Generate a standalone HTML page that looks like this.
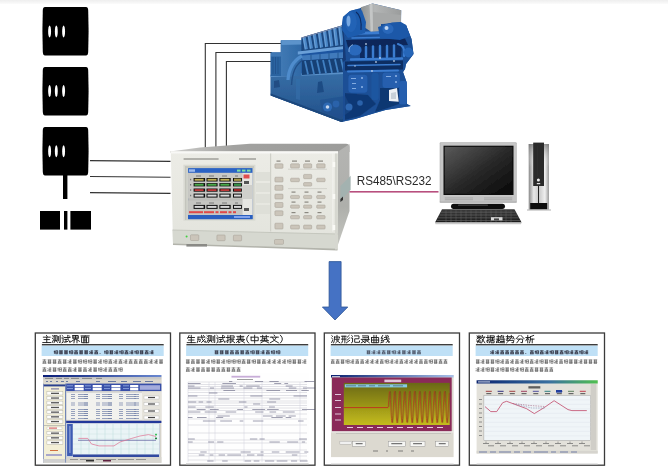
<!DOCTYPE html>
<html><head><meta charset="utf-8">
<style>
html,body{margin:0;padding:0;background:#fff;}
body{width:668px;height:470px;overflow:hidden;position:relative;font-family:"Liberation Sans",sans-serif;}
svg{position:absolute;left:0;top:0;}
</style></head><body>
<svg width="668" height="470" viewBox="0 0 668 470">
<filter id="soft" x="0" y="0" width="1" height="1"><feGaussianBlur stdDeviation="0.4"/></filter>
<g filter="url(#soft)">
<defs>
<linearGradient id="topband" x1="0" y1="0" x2="0" y2="1">
<stop offset="0" stop-color="#eeeeee"/><stop offset="1" stop-color="#fbfbfb"/>
</linearGradient>
</defs>
<rect x="0" y="0" width="668" height="470" fill="#fff"/>
<rect x="0" y="0" width="668" height="4" fill="url(#topband)"/>

<!-- left black icons -->
<g id="icons" fill="#000">
<path d="M45 7 H86 Q88 7 88.2 10 Q89 31 88.2 52 Q88 55.5 86 55.5 H45 Q43 55.5 42.8 52 Q42 31 42.8 10 Q43 7 45 7Z"/>
<path d="M45 67 H86 Q88 67 88.2 70 Q89 91 88.2 112 Q88 115.5 86 115.5 H45 Q43 115.5 42.8 112 Q42 91 42.8 70 Q43 67 45 67Z"/>
<path d="M45 127 H86 Q88 127 88.2 130 Q89 151 88.2 172 Q88 175.5 86 175.5 H45 Q43 175.5 42.8 172 Q42 151 42.8 130 Q43 127 45 127Z"/>
<rect x="63" y="175" width="4.4" height="24"/>
<rect x="40" y="211" width="20" height="18.6"/>
<rect x="64" y="211" width="3.4" height="18.6"/>
<rect x="70.4" y="211" width="20.6" height="18.6"/>
</g>
<g fill="#fff">
<ellipse cx="49.6" cy="31.6" rx="1.45" ry="6"/><ellipse cx="56.3" cy="31.6" rx="1.45" ry="6"/><ellipse cx="63.6" cy="31.6" rx="1.45" ry="6"/>
<ellipse cx="49.6" cy="91" rx="1.45" ry="6"/><ellipse cx="56.3" cy="91" rx="1.45" ry="6"/><ellipse cx="63.6" cy="91" rx="1.45" ry="6"/>
<ellipse cx="49.6" cy="151.3" rx="1.45" ry="6"/><ellipse cx="56.3" cy="151.3" rx="1.45" ry="6"/><ellipse cx="63.6" cy="151.3" rx="1.45" ry="6"/>
</g>
<!-- lines from icons to instrument -->
<g stroke="#333" stroke-width="1.1" fill="none">
<path d="M90 160.6 L170.5 161.4"/>
<path d="M90 176.5 L170.5 177.3"/>
<path d="M90 192.6 L170.5 193.4"/>
<!-- engine to instrument -->
<path d="M205.3 148 V43.5 H284"/>
<path d="M215.9 147.2 V52.5 H272"/>
<path d="M226.4 146.4 V61.5 H272"/>
</g>



<!-- engine -->
<g id="engine">
<defs>
<linearGradient id="baseg" x1="0" y1="0" x2="0" y2="1"><stop offset="0" stop-color="#376ea6"/><stop offset="0.5" stop-color="#2c5f98"/><stop offset="1" stop-color="#214f88"/></linearGradient>
<linearGradient id="boxg" x1="0" y1="0" x2="1" y2="0"><stop offset="0" stop-color="#8e9292"/><stop offset="0.35" stop-color="#b4b6b6"/><stop offset="1" stop-color="#9a9c9c"/></linearGradient>
<linearGradient id="leftblk" x1="0" y1="0" x2="1" y2="0"><stop offset="0" stop-color="#4079b4"/><stop offset="1" stop-color="#2f69a6"/></linearGradient>
</defs>
<!-- silhouette -->
<path d="M270.7 52.5 L280.8 52.5 L280.8 40.5 L301.5 40.5 L301.5 37.6 L341.8 25.5 L343 17 L350 11 L359 8.5 L372.5 3.6 L401.2 10.3 L401 24 L406 25 L411.5 39 L413.5 54 L406 64 L405 69 L403 72 L406.5 82 L407 104 L410.7 106 L385.5 110 L375 113 L355 119 L341.5 122 L270.7 95.5 Z" fill="#1c54a0"/>
<!-- base block -->
<path d="M270.7 74.8 L343 72 L343 121.5 L341.5 122 L270.7 95.5 Z" fill="url(#baseg)"/>
<path d="M270.7 93.5 L341.5 119.8 L343 119.3 L343 121.5 L341.5 122 L270.7 95.5 Z" fill="#1c477c"/>
<path d="M270.7 74.8 L343 71.8 L343 74 L270.7 77 Z" fill="#5a90c8"/>
<path d="M274 81 L279 80 L280 87 L274 88 Z" fill="#224e84"/>
<path d="M318 82 L322 81 L324 92 L317 93 Z" fill="#1f4c84"/>
<path d="M296 79 L300 79 L300 100 L296 99 Z" fill="#3370ac" opacity="0.6"/>
<!-- left blocks -->
<path d="M280.8 40.5 L301.5 40.5 L301.5 76 L280.8 76 Z" fill="url(#leftblk)"/>
<path d="M281.5 40.3 L301.5 40.3 L301.5 44.5 L281.5 45 Z" fill="#5b93cb"/>
<path d="M270.7 52.5 L281 52.5 L281 76 L270.7 76 Z" fill="#2c64a0"/>
<g stroke="#1d4f8a" stroke-width="0.8"><path d="M273 57 V74"/><path d="M275.5 57 V74"/><path d="M278 57 V74"/></g>
<path d="M271 52.8 L281 52.8 L281 56.5 L271 56.5 Z" fill="#3f78b4"/>
<!-- cylinder heads -->
<path d="M301.5 37.6 L341.8 25.5 L345 25 L345 47 L301.5 51.5 Z" fill="#1a467e"/>
<path d="M302.50 37.90 L305.70 37.00 L307.90 48.88 L304.70 49.68 Z" fill="#4c88c8"/>
<path d="M302.90 38.10 L303.90 37.80 L305.70 49.08 L304.90 49.38 Z" fill="#80b0e0" opacity="0.7"/>
<path d="M307.60 36.37 L310.80 35.47 L313.00 48.29 L309.80 49.09 Z" fill="#4c88c8"/>
<path d="M308.00 36.57 L309.00 36.27 L310.80 48.49 L310.00 48.79 Z" fill="#80b0e0" opacity="0.7"/>
<path d="M312.70 34.84 L315.90 33.94 L318.10 47.69 L314.90 48.49 Z" fill="#4c88c8"/>
<path d="M313.10 35.04 L314.10 34.74 L315.90 47.89 L315.10 48.19 Z" fill="#80b0e0" opacity="0.7"/>
<path d="M317.80 33.31 L321.00 32.41 L323.20 47.10 L320.00 47.90 Z" fill="#4c88c8"/>
<path d="M318.20 33.51 L319.20 33.21 L321.00 47.30 L320.20 47.60 Z" fill="#80b0e0" opacity="0.7"/>
<path d="M322.90 31.77 L326.10 30.87 L328.30 46.50 L325.10 47.30 Z" fill="#4c88c8"/>
<path d="M323.30 31.97 L324.30 31.67 L326.10 46.70 L325.30 47.00 Z" fill="#80b0e0" opacity="0.7"/>
<path d="M328.00 30.24 L331.20 29.34 L333.40 45.91 L330.20 46.71 Z" fill="#4c88c8"/>
<path d="M328.40 30.44 L329.40 30.14 L331.20 46.11 L330.40 46.41 Z" fill="#80b0e0" opacity="0.7"/>
<path d="M333.10 28.71 L336.30 27.81 L338.50 45.31 L335.30 46.11 Z" fill="#4c88c8"/>
<path d="M333.50 28.91 L334.50 28.61 L336.30 45.51 L335.50 45.81 Z" fill="#80b0e0" opacity="0.7"/>
<path d="M338.20 27.18 L341.40 26.28 L343.60 44.72 L340.40 45.52 Z" fill="#4c88c8"/>
<path d="M338.60 27.38 L339.60 27.08 L341.40 44.92 L340.60 45.22 Z" fill="#80b0e0" opacity="0.7"/>
<path d="M301.5 37.6 L341.8 25.5 L342.2 26.6 L301.5 38.6 Z" fill="#b8b0c0" opacity="0.6"/>
<path d="M297.8 51.6 L345 46 L345 49 L297.8 54.6 Z" fill="#6aa0d8"/>
<path d="M302 55.4 L345 52 L345 58 L302 60.5 Z" fill="#3f7abb"/>
<g stroke="#1e4a82" stroke-width="0.7"><path d="M311 54.7V60"/><path d="M320 54V59.5"/><path d="M329 53.3V59"/><path d="M338 52.6V58.5"/></g>
<path d="M302 60.5 L345 58 L345 72 L302 75 Z" fill="#173f74"/>
<g stroke="#4080c2" stroke-width="1.8">
<path d="M305.0 61.0 L308.0 74.5"/>
<path d="M311.0 60.6 L314.0 74.1"/>
<path d="M317.0 60.3 L320.0 73.7"/>
<path d="M323.0 60.0 L326.0 73.3"/>
<path d="M329.0 59.6 L332.0 72.9"/>
<path d="M335.0 59.2 L338.0 72.5"/>
<path d="M341.0 58.9 L344.0 72.1"/>
</g>
<path d="M288 80 Q289 63 302 56" stroke="#4f8ccc" stroke-width="3.2" fill="none"/>
<path d="M291.5 85 Q292.5 66 303 60" stroke="#214f88" stroke-width="1.4" fill="none"/>
<!-- right complex section -->
<path d="M343 24.5 L362 24 L401 24 L406 25 L411.5 39 L413.5 54 L406 64 L405 69 L403 72 L406.5 82 L407 104 L410.7 106 L385.5 110 L375 113 L355 119 L343 121.5 Z" fill="#1a4f96"/>
<g fill="#0b285a">
<path d="M346 40 L405 38.5 L408 45 L348 47.5 Z"/>
<path d="M360 46 L402 45 L401 58 L360 58.5 Z" opacity="0.9"/>
<path d="M345 61.5 L403 60.5 L403 69.5 L345 70.5 Z" opacity="0.85"/>
<path d="M345 93 L368 95 L376 104 L360 116 L345 120 Z" opacity="0.55"/>
<path d="M380 88 L399 88 L399 104 L385 109 L375 112 L380 100 Z" opacity="0.6"/>
<path d="M343 24.5 L346 60 L343 62 Z" opacity="0.5"/>
</g>
<g fill="none" stroke="#3a7cd0" stroke-linecap="round">
<path d="M348 33.5 L404 32" stroke-width="3"/>
<path d="M352 38 L399 37" stroke-width="1.6"/>
<path d="M351 59.5 L402 58.5" stroke-width="2.4"/>
<path d="M348 65.5 L400 64.5" stroke-width="1.5"/>
<path d="M348 71.5 L398 70.5" stroke-width="2"/>
<path d="M366 47 V57" stroke-width="2.4"/><path d="M373 46.5 V57" stroke-width="2.4"/><path d="M380 46 V57" stroke-width="2.4"/><path d="M387 46 V57" stroke-width="2.4"/><path d="M394 45.5 V56.5" stroke-width="2.4"/>
<path d="M398 44 Q406 46 404 56" stroke-width="2.2"/>
</g>
<g fill="#255fae">
<rect x="348.4" y="74.8" width="19" height="18" rx="3"/>
<rect x="382.5" y="72.4" width="17.4" height="15.6" rx="3"/>
<rect x="399.3" y="81" width="7.5" height="23.5" rx="2"/>
<rect x="371.5" y="73" width="7" height="27" rx="2" fill="#1f56a0"/>
</g>
<g fill="#8fb4e6"><rect x="351" y="78" width="5" height="0.9"/><rect x="352" y="83" width="4" height="0.9"/><rect x="352" y="88" width="4" height="0.9"/><rect x="386" y="76" width="5" height="0.9"/><circle cx="362" cy="78" r="1"/><circle cx="362" cy="87" r="1"/><circle cx="396" cy="76" r="1"/><circle cx="396" cy="82" r="1"/></g>
<ellipse cx="355" cy="50" rx="6.6" ry="5.6" fill="#2b69bc"/>
<path d="M349 52 Q348.5 46 353 44.6" stroke="#a8c8f0" stroke-width="0.7" fill="none"/>
<ellipse cx="408.5" cy="52.5" rx="4.6" ry="5" fill="#2866b8"/>
<g fill="#c8d8ee" opacity="0.85"><circle cx="366" cy="44" r="0.9"/><circle cx="380" cy="58" r="0.9"/><circle cx="394" cy="61" r="0.9"/><circle cx="376" cy="62" r="0.9"/><circle cx="358" cy="33" r="0.9"/><circle cx="372" cy="71" r="0.9"/><circle cx="355" cy="66" r="0.8"/></g>
<!-- pumps bottom -->
<path d="M320 100 L345 96 L352 110 L340 118 L322 112 Z" fill="#1e4f90" opacity="0.6"/>
<circle cx="327.5" cy="107" r="4.6" fill="#2f6ab4"/>
<circle cx="336" cy="104" r="3.4" fill="#2a62aa"/>
<circle cx="327.5" cy="107" r="1.8" fill="#c8d8ee"/>
<circle cx="349" cy="107" r="3.5" fill="#2e68b2"/>
<circle cx="360" cy="103" r="2.8" fill="#2a62aa"/>
<!-- gray box & turbo -->
<path d="M360.8 7.2 L372.5 3.6 L401.2 10.3 L400.8 22 L392 22.5 L381 24 L380.5 31 L370.7 31.5 L364 27 Z" fill="url(#boxg)"/>
<path d="M369.5 4.5 L372.5 3.6 L373 31.3 L370.7 31.5 Z" fill="#c4c6c6"/>
<path d="M373 12 L400.8 15 L400.8 22 L381 24 L380.5 31 L373 31.3 Z" fill="#a6a8a8"/>
<path d="M342 30 L343 17 L350 11 L356 9.5 L362 10.5 L366 22 L365 33 L348 38 Z" fill="#1f5cae"/>
<ellipse cx="351" cy="22" rx="5.5" ry="10" fill="#2464b6"/>
<ellipse cx="348.5" cy="21" rx="2" ry="5.5" fill="#8ab8ee" opacity="0.8"/>
<path d="M356 12 Q362 16 361 30" stroke="#0c2c62" stroke-width="1.2" fill="none"/>
<path d="M378 27 L392 22.5 L401 22 L406 25 L410 36 L400 40 L380 38 Z" fill="#1d58a8"/>
<ellipse cx="388" cy="29" rx="5.5" ry="5" fill="#2a68ba"/>
<circle cx="386.5" cy="28" r="2" fill="#c0d6f2"/>
<path d="M389 90 L397 88 L398.7 101.7 L389 101 Z" fill="#eef1f4"/>
<path d="M391 93 L396 92 L396 99 L391 99 Z" fill="#c8d0d8"/>
</g>

<!-- instrument -->
<g id="instrument">
<defs>
<linearGradient id="sideg" x1="0" y1="0" x2="0" y2="1"><stop offset="0" stop-color="#b4b4b2"/><stop offset="0.6" stop-color="#aeafab"/><stop offset="1" stop-color="#c6c7c1"/></linearGradient>
<linearGradient id="topg" x1="0" y1="0" x2="1" y2="0"><stop offset="0" stop-color="#d0d0ce"/><stop offset="0.35" stop-color="#a2a2a0"/><stop offset="1" stop-color="#9c9c9a"/></linearGradient>
<linearGradient id="frontg" x1="0" y1="0" x2="0" y2="1"><stop offset="0" stop-color="#ecece6"/><stop offset="1" stop-color="#e2e3dc"/></linearGradient>
</defs>
<!-- top face -->
<path d="M170 151.5 L200 147.5 L250 143.8 L346 143.8 Q349.5 144 349.5 147 L349.5 152 L338 152.5 L170 152.5 Z" fill="url(#topg)"/>
<!-- side face -->
<path d="M337.5 152 L349.5 144 L349.5 211 L337 247.5 Z" fill="url(#sideg)"/>
<!-- front -->
<path d="M170.8 151.5 L338 151.5 L337.5 249.5 L173 244 Z" fill="url(#frontg)"/>
<rect x="170.8" y="151.3" width="167.2" height="2.2" fill="#f8f8f6"/>
<!-- base band -->
<path d="M172.5 230 L338 234 L337.5 249.5 L173 244 Z" fill="#d6d8d0"/>
<path d="M172.5 230 L270 232.5 L338 234" stroke="#c2c4bb" stroke-width="0.9" fill="none"/>
<path d="M173 244.2 L337.5 249.6" stroke="#b2b3ab" stroke-width="1.6" fill="none"/>
<!-- feet -->
<rect x="186.4" y="244" width="20.6" height="2.6" fill="#8a8a86"/>
<!-- panel label text -->
<rect x="183.6" y="158.3" width="35" height="1.4" fill="#9a9a94"/>
<rect x="239" y="158.3" width="17" height="1.4" fill="#9a9a94"/>
<!-- screen bezel -->
<rect x="183.4" y="164.7" width="72" height="56" fill="#d9dad2"/>
<rect x="185" y="166.4" width="69" height="53.5" fill="#d0d1ca"/>
<rect x="185" y="166.4" width="69" height="1.2" fill="#bfc0b8"/><rect x="185" y="166.4" width="1.2" height="53.5" fill="#c4c5bd"/>
<!-- screen -->
<rect x="188.1" y="168.1" width="64.4" height="51" fill="#2b62c4"/>
<rect x="188.1" y="172.9" width="64.4" height="42.1" fill="#bdbdb9"/>
<rect x="188.1" y="172.9" width="54.4" height="25.5" fill="#c8c8c4"/>
<rect x="188.1" y="200.5" width="54.4" height="14.5" fill="#c6c6c2"/>
<rect x="242.5" y="172.9" width="10" height="42.1" fill="#e6e6e2"/>
<rect x="242.5" y="185" width="10" height="14" fill="#cfcfcb"/>
<rect x="188.1" y="215" width="64.4" height="4.1" fill="#2a5ec0"/>
<rect x="189" y="169.3" width="6" height="2.5" fill="#cfe0ff" opacity="0.7"/>
<rect x="237" y="169.6" width="3.5" height="2" fill="#7fe0a0"/><rect x="242" y="169.6" width="3.5" height="2" fill="#7fe0a0"/><rect x="247" y="169.6" width="3.5" height="2" fill="#7fe0a0"/>
<g fill="#101010">
<rect x="193.6" y="178" width="11.5" height="3.5"/><rect x="206.5" y="178" width="11.1" height="3.5"/><rect x="219.4" y="178" width="11.3" height="3.5"/><rect x="233" y="178" width="8.9" height="3.5"/>
<rect x="193.6" y="183.1" width="11.5" height="3.3"/><rect x="206.5" y="183.1" width="11.1" height="3.3"/><rect x="219.4" y="183.1" width="11.3" height="3.3"/><rect x="233" y="183.1" width="8.9" height="3.3"/>
<rect x="193.6" y="188.5" width="11.5" height="3.2"/><rect x="206.5" y="188.5" width="11.1" height="3.2"/><rect x="219.4" y="188.5" width="11.3" height="3.2"/><rect x="233" y="188.5" width="8.9" height="3.2"/>
<rect x="193.6" y="193.6" width="11.5" height="4"/><rect x="206.5" y="193.6" width="11.1" height="4"/><rect x="219.4" y="193.6" width="11.3" height="4"/><rect x="233" y="193.6" width="8.9" height="4"/>
<rect x="193.6" y="204.9" width="11.5" height="4"/><rect x="206.5" y="204.9" width="11.1" height="4"/><rect x="219.4" y="204.9" width="11.3" height="4"/><rect x="233" y="204.9" width="8.9" height="4"/>
</g>
<g fill="#c0b058"><rect x="194.6" y="178.8" width="9" height="1.9"/><rect x="207.5" y="178.8" width="9" height="1.9"/><rect x="220.4" y="178.8" width="9" height="1.9"/><rect x="234" y="178.6" width="7" height="2.3" fill="#a89848"/></g>
<g fill="#48a848"><rect x="194.6" y="183.8" width="9" height="1.9"/><rect x="207.5" y="183.8" width="9" height="1.9"/><rect x="220.4" y="183.8" width="9" height="1.9"/><rect x="234" y="183.6" width="7" height="2.3" fill="#38904a"/></g>
<g fill="#c03838"><rect x="194.6" y="189.2" width="9" height="1.8"/><rect x="207.5" y="189.2" width="9" height="1.8"/><rect x="220.4" y="189.2" width="9" height="1.8"/><rect x="234" y="189" width="7" height="2.2" fill="#a02828"/></g>
<g fill="#d8d8d8"><rect x="194.6" y="194.6" width="9" height="2"/><rect x="207.5" y="194.6" width="9" height="2"/><rect x="220.4" y="194.6" width="9" height="2"/><rect x="234" y="194.6" width="7" height="2"/>
<rect x="194.6" y="205.9" width="9" height="2"/><rect x="207.5" y="205.9" width="9" height="2"/><rect x="220.4" y="205.9" width="9" height="2"/><rect x="234" y="205.9" width="7" height="2"/></g>
<g fill="#777"><rect x="196" y="175.5" width="5" height="1"/><rect x="209" y="175.5" width="5" height="1"/><rect x="222" y="175.5" width="5" height="1"/><rect x="235" y="175.5" width="3" height="1"/>
<rect x="196" y="202.5" width="5" height="1"/><rect x="209" y="202.5" width="5" height="1"/><rect x="222" y="202.5" width="5" height="1"/><rect x="235" y="202.5" width="3" height="1"/>
<rect x="190" y="178.8" width="1.2" height="1.5"/><rect x="190" y="184" width="1.2" height="1.5"/><rect x="190" y="189.3" width="1.2" height="1.5"/><rect x="190" y="194.8" width="1.2" height="1.5"/></g>
<g fill="#e04848"><rect x="189" y="211.2" width="14" height="2"/><rect x="204" y="211.2" width="10" height="2"/><rect x="215.5" y="211.2" width="3" height="2"/><rect x="220" y="211.2" width="7" height="2"/><rect x="228.5" y="211.2" width="3" height="2"/><rect x="233" y="211.2" width="3" height="2"/></g>
<rect x="243.5" y="174.5" width="6" height="4" fill="#e05050"/>
<rect x="244" y="181" width="5" height="3" fill="#555"/>
<rect x="244" y="208" width="5" height="3" fill="#555"/>
<rect x="234" y="216" width="16" height="2" fill="#a8c0ff" opacity="0.7"/>
<!-- soft key strips right of screen -->
<g fill="#dedfd8"><rect x="256" y="172" width="14" height="9"/><rect x="256" y="183" width="14" height="9"/><rect x="256" y="194" width="14" height="9"/><rect x="256" y="205" width="14" height="9"/></g>
<rect x="270" y="153.5" width="1.2" height="78" fill="#cfd0c8"/>
<rect x="332.4" y="153.5" width="1" height="78" fill="#f4f4f0"/>
<rect x="335" y="153.5" width="2.6" height="96" fill="#d6d7d0"/>
<!-- buttons -->
<g fill="#cbc5ba" stroke="#a39d92" stroke-width="0.5">
<rect x="274.9" y="163.8" width="8.1" height="4.5" rx="0.8"/>
<rect x="274.9" y="177.2" width="8.1" height="4.8" rx="0.8"/>
<rect x="274.9" y="185.3" width="8.1" height="5" rx="0.8"/>
<rect x="274.9" y="194.1" width="8.1" height="4.9" rx="0.8"/>
<rect x="274.9" y="202.5" width="8.1" height="4.9" rx="0.8"/>
<rect x="274.9" y="210.8" width="8.1" height="4.8" rx="0.8"/>
<rect x="274.9" y="223.2" width="8.1" height="5.8" rx="0.8"/>
<rect x="274.5" y="239.5" width="9" height="4.8" rx="0.8"/>
<rect x="290.6" y="163.8" width="8.8" height="4.3" rx="0.8"/><rect x="303.6" y="163.8" width="8.1" height="4.3" rx="0.8"/><rect x="316.7" y="163.8" width="8.4" height="4.3" rx="0.8"/>
<rect x="290.6" y="178.2" width="8.8" height="3.5" rx="0.8"/><rect x="303.6" y="174.4" width="8.1" height="4.3" rx="0.8"/><rect x="303.6" y="182.6" width="8.1" height="3.5" rx="0.8"/><rect x="316.7" y="178.2" width="8.4" height="3.5" rx="0.8"/>
<rect x="290.6" y="195.4" width="8.8" height="3.2" rx="0.8"/><rect x="303.6" y="195.4" width="8.1" height="3.2" rx="0.8"/><rect x="316.7" y="195.4" width="8.4" height="3.2" rx="0.8"/>
<rect x="290.6" y="205" width="8.8" height="3.2" rx="0.8"/><rect x="303.6" y="205" width="8.1" height="3.2" rx="0.8"/><rect x="316.7" y="205" width="8.4" height="3.2" rx="0.8"/>
<rect x="290.6" y="215.6" width="8.8" height="3.2" rx="0.8"/><rect x="303.6" y="215.6" width="8.1" height="3.2" rx="0.8"/><rect x="316.7" y="215.6" width="8.4" height="3.2" rx="0.8"/>
<rect x="290.6" y="225.1" width="8.8" height="3.9" rx="0.8"/><rect x="303.6" y="225.1" width="8.1" height="3.9" rx="0.8"/><rect x="316.7" y="225.1" width="8.4" height="3.9" rx="0.8"/>
<rect x="190.5" y="234.8" width="8.3" height="5.7" rx="0.8"/><rect x="216.9" y="235" width="8.2" height="5.7" rx="0.8"/><rect x="233.4" y="235.2" width="8.2" height="5.7" rx="0.8"/>
</g>
<g fill="#8a8880">
<rect x="291.5" y="191.5" width="4" height="1.2"/><rect x="304.5" y="191.5" width="4" height="1.2"/><rect x="317.5" y="191.5" width="4" height="1.2"/>
<rect x="291.5" y="201.5" width="4" height="1.2"/><rect x="304.5" y="201.5" width="4" height="1.2"/><rect x="317.5" y="201.5" width="4" height="1.2"/>
<rect x="291.5" y="212" width="4" height="1.2"/><rect x="304.5" y="212" width="4" height="1.2"/><rect x="317.5" y="212" width="4" height="1.2"/>
<rect x="292" y="160.5" width="5" height="1.2"/><rect x="305" y="160.5" width="5" height="1.2"/><rect x="318" y="160.5" width="5" height="1.2"/><rect x="276.5" y="160.5" width="4" height="1.2"/>
</g>
<rect x="288" y="168.8" width="39" height="0.7" fill="#c8c8c0"/>
<rect x="288" y="188.4" width="39" height="0.7" fill="#c8c8c0"/>
<circle cx="186.6" cy="236.6" r="1" fill="#40d040"/>
<rect x="332.6" y="162" width="2.6" height="5" fill="#fafaf6"/><rect x="332.6" y="194" width="2.6" height="5" fill="#fafaf6"/><rect x="332.6" y="225" width="2.6" height="5" fill="#fafaf6"/>
<!-- connector -->
<path d="M340.4 186 L350.6 175.7 L350.6 189.7 L340.4 201 Z" fill="#a3b2b0"/>
<path d="M340.4 199 L343 196.5 L343 200 L340.4 202 Z" fill="#333"/>
</g>


<!-- computer -->
<g id="computer">
<defs>
<linearGradient id="scrg" x1="0" y1="0" x2="1" y2="1"><stop offset="0" stop-color="#5a5a5a"/><stop offset="0.5" stop-color="#2a2a2a"/><stop offset="1" stop-color="#080808"/></linearGradient>
<linearGradient id="towg" x1="0" y1="0" x2="1" y2="0"><stop offset="0" stop-color="#8a8a8a"/><stop offset="0.25" stop-color="#e8e8e8"/><stop offset="0.5" stop-color="#c8c8c8"/><stop offset="0.8" stop-color="#f0f0f0"/><stop offset="1" stop-color="#9a9a9a"/></linearGradient>
<linearGradient id="towv" x1="0" y1="0" x2="0" y2="1"><stop offset="0" stop-color="#707070" stop-opacity="0.7"/><stop offset="0.35" stop-color="#ffffff" stop-opacity="0"/><stop offset="1" stop-color="#ffffff" stop-opacity="0"/></linearGradient>
<linearGradient id="kbg" x1="0" y1="0" x2="0" y2="1"><stop offset="0" stop-color="#3a3a3a"/><stop offset="1" stop-color="#1c1c1c"/></linearGradient>
</defs>
<rect x="439.7" y="142.3" width="77" height="60.3" rx="1" fill="#b4b4b4"/>
<rect x="440.4" y="143" width="75.6" height="58.9" rx="0.8" fill="#c6c6c6"/>
<rect x="443.5" y="145.7" width="70" height="49.3" fill="#0a0a0a"/>
<rect x="444.7" y="146.8" width="67.6" height="47" fill="url(#scrg)"/>
<rect x="444" y="196.5" width="69" height="4.2" fill="#c2c2c2"/>
<g fill="#a8a8a8"><rect x="445" y="197.5" width="28" height="0.9"/><rect x="445" y="199.3" width="28" height="0.9"/><rect x="484" y="197.5" width="28" height="0.9"/><rect x="484" y="199.3" width="28" height="0.9"/></g>
<rect x="439.7" y="201.5" width="77" height="1.2" fill="#b0b0b0"/>
<rect x="451" y="203.7" width="54" height="5.2" rx="2.6" fill="#111"/>
<rect x="458" y="204.5" width="30" height="1.3" rx="0.6" fill="#444"/>
<!-- keyboard -->
<path d="M442 209.2 L514.5 209.2 L521.6 222.5 L435 222.5 Z" fill="url(#kbg)"/>
<path d="M435 222.5 L521.6 222.5 L521 224.3 L435.5 224.3 Z" fill="#c9c9c9"/>
<g stroke="#8a8a8a" stroke-width="0.45" opacity="0.9">
<path d="M441 212.2 H515.5"/><path d="M439.5 215 H517"/><path d="M438 217.8 H518.5"/><path d="M436.5 220.5 H520"/>
</g>
<g stroke="#6a6a6a" stroke-width="0.45">
<path d="M446 209.5 V222"/><path d="M451 209.5 V222"/><path d="M456 209.5 V222"/><path d="M461 209.5 V222"/><path d="M466 209.5 V222"/><path d="M471 209.5 V222"/><path d="M476 209.5 V222"/><path d="M481 209.5 V222"/><path d="M486 209.5 V222"/><path d="M491 209.5 V222"/><path d="M496 209.5 V222"/><path d="M501 209.5 V222"/><path d="M506 209.5 V222"/><path d="M511 209.5 V222"/>
</g>
<rect x="491" y="217.2" width="11.5" height="3.2" fill="#d8d8d8"/>
<rect x="494" y="218.4" width="5" height="2" fill="#444"/>
<!-- tower -->
<rect x="528.7" y="144" width="20.3" height="65.9" fill="url(#towg)"/>
<rect x="528.7" y="144" width="20.3" height="65.9" fill="url(#towv)"/>
<rect x="533.2" y="142.6" width="10.8" height="43.4" fill="#2a2a2a"/>
<rect x="537.5" y="146" width="0.8" height="30" fill="#333"/>
<circle cx="538.4" cy="180.1" r="1.5" fill="#f0f0f0"/>
<rect x="536.8" y="183" width="3.4" height="1.2" fill="#ddd"/>
<rect x="538.1" y="186" width="0.9" height="17" fill="#111"/>
<rect x="530.2" y="203" width="17" height="6.5" fill="#0a0a0a"/>
<rect x="527" y="209.4" width="24" height="1.2" fill="#bdbdbd"/>
</g>

<!-- RS485 text & line -->
<text x="356.7" y="185.2" font-family="Liberation Sans" font-size="12.4" fill="#2a2a2a" textLength="74.8" lengthAdjust="spacingAndGlyphs">RS485\RS232</text>
<rect x="349.5" y="191" width="89" height="1.6" fill="#b8507e"/>

<!-- arrow -->
<path d="M329.1 261.6 H341.1 V307 H347.8 L335 320 L322.4 307 H329.1 Z" fill="#4472c4" stroke="#2f5597" stroke-width="0.8"/>

<!-- boxes -->
<g id="boxes">
<rect x="35.3" y="333" width="135.2" height="132.2" fill="none" stroke="#3a3a3a" stroke-width="1.3"/>
<rect x="179.8" y="333" width="135.2" height="132.2" fill="none" stroke="#3a3a3a" stroke-width="1.3"/>
<rect x="324.3" y="333" width="135.2" height="132.2" fill="none" stroke="#3a3a3a" stroke-width="1.3"/>
<rect x="469.3" y="333" width="135.2" height="132.2" fill="none" stroke="#3a3a3a" stroke-width="1.3"/>
<path d="M46.39 335.34 L47.28 336.22M43.37 337.18 L50.13 337.18M44.08 339.58 L49.42 339.58M42.83 342.54 L50.67 342.54M46.75 337.18 L46.75 342.54M52.43 335.74 L53.32 336.54M52.26 338.14 L53.15 338.94M52.26 342.46 L53.32 340.22M54.21 335.74 L57.24 335.74 L57.24 340.70 L54.21 340.70 L54.21 335.74M55.73 336.70 L55.73 339.90M55.10 340.70 L54.04 342.62M56.35 340.70 L57.42 342.30M58.66 336.54 L58.66 340.70M60.18 335.42 L60.18 342.62 L59.38 342.30M62.21 335.58 L63.10 336.38M61.86 337.98 L63.10 337.98 L63.10 342.14 L62.03 342.78M64.17 337.50 L70.04 337.50M64.70 339.42 L67.20 339.42M65.95 339.42 L65.95 341.98M64.35 342.14 L67.55 341.50M67.73 335.42 L68.09 339.10 L70.04 342.62 L70.22 341.34M68.98 335.58 L69.69 336.38M72.88 335.50 L78.22 335.50 L78.22 338.78 L72.88 338.78 L72.88 335.50M72.88 337.14 L78.22 337.14M75.55 335.50 L75.55 338.78M75.55 338.78 L71.54 341.34M75.55 338.78 L79.55 341.34M74.30 340.38 L73.95 342.78M76.97 340.38 L76.97 342.78M81.14 335.90 L89.15 335.90M85.15 335.90 L84.62 337.18M81.59 337.18 L88.71 337.18 L88.71 342.70 L81.59 342.70 L81.59 337.18M83.90 337.18 L83.90 342.70M86.40 337.18 L86.40 342.70M83.90 339.10 L86.40 339.10M83.90 340.86 L86.40 340.86" fill="none" stroke="#1a1a1a" stroke-width="0.92" stroke-linecap="square" stroke-linejoin="miter"/>
<rect x="41.9" y="344.1" width="121.8" height="1.4" fill="#2a2a2a"/>
<rect x="41.6" y="345.7" width="122.1" height="10.3" fill="#bfe0f6"/>
<path d="M189.11 335.42 L187.69 338.30M188.22 337.50 L194.45 337.50M191.25 335.42 L191.25 342.62M188.58 340.06 L193.92 340.06M187.25 342.62 L195.26 342.62M198.05 337.18 L204.82 337.18M198.05 337.18 L197.88 340.70 L197.16 342.62M198.05 339.26 L200.37 339.26 L200.01 341.66 L199.30 341.50M201.61 335.42 L202.15 339.10 L205.17 342.62 L205.35 341.18M204.82 339.10 L201.61 342.46M203.39 335.50 L204.28 336.30M206.99 335.74 L207.88 336.54M206.82 338.14 L207.71 338.94M206.82 342.46 L207.88 340.22M208.77 335.74 L211.80 335.74 L211.80 340.70 L208.77 340.70 L208.77 335.74M210.29 336.70 L210.29 339.90M209.66 340.70 L208.60 342.62M210.91 340.70 L211.98 342.30M213.22 336.54 L213.22 340.70M214.74 335.42 L214.74 342.62 L213.94 342.30M217.00 335.58 L217.89 336.38M216.65 337.98 L217.89 337.98 L217.89 342.14 L216.82 342.78M218.96 337.50 L224.83 337.50M219.49 339.42 L221.99 339.42M220.74 339.42 L220.74 341.98M219.14 342.14 L222.34 341.50M222.52 335.42 L222.88 339.10 L224.83 342.62 L225.01 341.34M223.77 335.58 L224.48 336.38M226.57 337.50 L229.32 337.50M227.90 335.42 L227.90 342.46 L227.19 342.30M226.57 341.02 L229.32 339.74M230.21 335.90 L234.13 335.90 L234.13 337.98 L230.57 337.98M230.21 335.90 L230.21 342.78M230.57 339.26 L234.13 339.26 L230.75 342.70M231.64 340.38 L234.66 342.70M237.02 336.38 L243.78 336.38M237.55 337.98 L243.25 337.98M236.40 339.58 L244.41 339.58M240.40 335.42 L240.40 339.58M239.87 339.58 L236.48 342.46M238.62 341.34 L238.62 342.78 L240.04 342.14M240.58 340.06 L244.49 342.78M243.78 340.22 L242.00 341.18M248.63 335.26 L247.20 337.10 L246.67 339.10 L247.20 341.10 L248.63 342.94M251.09 337.18 L258.21 337.18 L258.21 340.70 L251.09 340.70 L251.09 337.18M254.65 335.26 L254.65 342.94M260.48 336.70 L268.49 336.70M262.70 335.42 L262.70 337.98M266.26 335.42 L266.26 337.98M261.99 340.70 L261.99 338.78 L266.98 338.78 L266.98 340.70M264.48 337.98 L264.48 340.70M260.48 340.70 L268.49 340.70M264.48 340.70 L260.92 342.78M264.48 340.70 L268.49 342.78M274.14 335.10 L274.85 336.06M270.31 337.18 L278.32 337.18M272.18 337.18 L274.31 340.38 L278.41 342.78M276.45 337.18 L274.31 340.38 L270.22 342.78M280.41 335.26 L281.83 337.10 L282.36 339.10 L281.83 341.10 L280.41 342.94" fill="none" stroke="#1a1a1a" stroke-width="0.92" stroke-linecap="square" stroke-linejoin="miter"/>
<rect x="186.4" y="344.1" width="121.8" height="1.4" fill="#2a2a2a"/>
<rect x="186.1" y="345.7" width="122.1" height="10.3" fill="#bfe0f6"/>
<path d="M331.83 335.74 L332.72 336.54M331.66 338.14 L332.55 338.94M331.66 342.46 L332.72 340.22M334.50 337.02 L339.67 337.02 L339.31 337.98M334.50 337.02 L334.33 340.70 L333.61 342.78M337.00 335.42 L337.00 339.10M335.22 339.26 L339.31 339.26 L335.75 342.78M336.64 340.38 L339.84 342.78M341.57 336.22 L346.11 336.22M341.57 339.10 L346.11 339.10M342.91 336.22 L342.73 340.38 L341.84 342.78M344.87 336.22 L344.87 342.78M349.14 335.42 L347.00 337.50M349.50 337.98 L347.00 340.22M349.67 340.38 L346.47 342.78M351.67 335.58 L352.56 336.38M351.32 337.98 L352.56 337.98 L352.56 342.14 L351.49 342.78M354.52 335.90 L358.97 335.90 L358.97 338.78 L354.70 338.78 L354.70 342.30 L359.50 342.30 L359.50 341.02M362.57 335.90 L368.44 335.90 L368.44 339.42M362.93 337.66 L368.44 337.66M361.23 339.42 L369.24 339.42M365.24 339.42 L365.24 342.78 L364.35 342.46M362.21 340.54 L363.46 341.34M363.99 341.18 L361.32 342.78M366.49 340.54 L369.33 342.78M368.44 340.22 L367.02 341.18M371.51 337.50 L378.63 337.50 L378.63 342.70 L371.51 342.70 L371.51 337.50M373.91 335.42 L373.91 342.70M376.23 335.42 L376.23 342.70M371.51 340.06 L378.63 340.06M382.76 335.42 L380.98 338.30 L383.12 338.14 L380.98 341.02 L383.65 340.54M380.89 342.78 L383.65 341.82M384.54 337.50 L388.46 337.02M384.37 339.58 L388.99 338.78M385.97 335.42 L386.68 339.10 L388.99 342.78 L389.17 341.50M388.82 339.90 L386.32 342.46M387.57 335.50 L388.46 336.22" fill="none" stroke="#1a1a1a" stroke-width="0.92" stroke-linecap="square" stroke-linejoin="miter"/>
<rect x="330.9" y="344.1" width="121.8" height="1.4" fill="#2a2a2a"/>
<rect x="330.6" y="345.7" width="122.1" height="10.3" fill="#bfe0f6"/>
<path d="M477.19 337.18 L480.75 337.18M478.97 335.42 L478.97 339.10M477.19 335.82 L477.72 336.70M480.75 335.82 L480.22 336.70M478.97 337.18 L476.83 339.10M478.97 337.34 L480.75 338.78M476.75 341.02 L480.75 341.02M479.33 339.58 L477.55 342.78M477.72 341.50 L480.75 342.78M482.53 335.42 L481.64 337.98M482.17 337.18 L484.84 337.18M484.31 337.18 L481.64 342.78M482.17 339.10 L484.84 342.78M486.57 337.50 L489.16 337.50M487.91 335.42 L487.91 342.46 L487.20 342.30M486.57 341.02 L489.16 339.74M490.22 335.90 L494.32 335.90 L494.32 337.50 L490.22 337.50M490.22 335.90 L490.05 340.70 L489.33 342.78M490.58 339.10 L494.67 339.10M492.54 337.50 L492.54 340.70M490.94 340.70 L494.14 340.70 L494.14 342.78 L490.94 342.78 L490.94 340.70M496.85 336.70 L499.88 336.70M498.27 335.42 L498.27 339.10M496.40 339.10 L500.23 339.10M498.27 339.10 L498.27 341.82M498.27 340.54 L499.52 340.54M497.38 339.90 L496.49 342.62M496.67 341.98 L499.52 342.62 L504.50 342.78M501.48 335.42 L500.41 337.18M501.30 336.06 L503.97 336.06 L503.26 337.50M500.41 337.98 L503.97 337.98 L503.97 341.50M500.94 339.74 L503.97 339.74M500.41 341.50 L503.97 341.50M506.23 336.70 L509.35 336.70M507.57 335.42 L507.57 339.26M506.23 339.10 L509.35 337.98M509.88 336.70 L513.27 336.70 L513.62 338.62 L514.33 338.94M511.31 335.42 L511.13 337.82 L510.06 339.26M511.31 337.66 L512.38 338.62M506.68 340.38 L513.80 340.38 L513.44 342.78 L512.02 342.62M510.06 339.42 L506.68 342.78M519.18 335.42 L516.07 338.78M520.96 335.42 L524.16 338.78M517.40 339.10 L522.74 339.10 L522.38 342.78 L520.96 342.46M519.71 339.10 L516.87 342.78M525.90 337.50 L529.54 337.50M527.76 335.42 L527.76 342.78M527.76 337.50 L525.90 340.70M527.76 338.30 L529.01 339.90M533.64 335.42 L530.43 336.70M530.43 336.70 L530.43 339.90 L529.54 342.78M530.43 339.10 L533.99 339.10M532.21 339.10 L532.21 342.78" fill="none" stroke="#1a1a1a" stroke-width="0.92" stroke-linecap="square" stroke-linejoin="miter"/>
<rect x="475.9" y="344.1" width="121.8" height="1.4" fill="#2a2a2a"/>
<rect x="475.6" y="345.7" width="122.1" height="10.3" fill="#bfe0f6"/>
<path d="M54.44 350.58V353.82M53.80 351.66H55.07M55.58 350.76H57.82M55.58 352.20H57.82M55.58 353.71H57.82M55.71 350.76V353.71M57.69 350.76V353.71M59.05 350.76H62.86M59.26 351.84H62.65M59.05 352.92H62.86M59.26 353.82H62.65M60.11 350.76V353.82M61.80 350.76V353.82M64.09 350.76H67.90M64.30 351.84H67.69M64.09 352.92H67.90M64.30 353.82H67.69M65.15 350.76V353.82M66.84 350.76V353.82M69.56 350.58V353.82M68.92 351.66H70.19M70.70 350.76H72.94M70.70 352.20H72.94M70.70 353.71H72.94M70.83 350.76V353.71M72.81 350.76V353.71M74.17 350.83H77.98M76.08 350.40V352.02M74.60 352.02H77.56M74.81 352.92H77.35M74.81 352.02V353.82M77.35 352.02V353.82M74.17 353.82H77.98M79.21 350.76H83.02M79.42 351.84H82.81M79.21 352.92H83.02M79.42 353.82H82.81M80.27 350.76V353.82M81.96 350.76V353.82M84.25 350.76H88.06M84.46 351.84H87.85M84.25 352.92H88.06M84.46 353.82H87.85M85.31 350.76V353.82M87.00 350.76V353.82M89.50 351.12V351.84M89.50 352.56V353.82M90.56 350.94H93.10M91.83 350.40V353.82M90.56 352.38H93.10M90.69 351.66V353.64M90.56 353.71H93.10M94.33 350.83H98.14M96.24 350.40V352.02M94.76 352.02H97.72M94.97 352.92H97.51M94.97 352.02V353.82M97.51 352.02V353.82M94.33 353.82H98.14M99.76 353.20 l0.8 0.8M104.84 350.58V353.82M104.20 351.66H105.47M105.98 350.76H108.22M105.98 352.20H108.22M105.98 353.71H108.22M106.11 350.76V353.71M108.09 350.76V353.71M109.45 350.76H113.26M109.66 351.84H113.05M109.45 352.92H113.26M109.66 353.82H113.05M110.51 350.76V353.82M112.20 350.76V353.82M114.70 351.12V351.84M114.70 352.56V353.82M115.76 350.94H118.30M117.03 350.40V353.82M115.76 352.38H118.30M115.89 351.66V353.64M115.76 353.71H118.30M119.96 350.58V353.82M119.32 351.66H120.59M121.10 350.76H123.34M121.10 352.20H123.34M121.10 353.71H123.34M121.23 350.76V353.71M123.21 350.76V353.71M124.57 350.83H128.38M126.48 350.40V352.02M125.00 352.02H127.96M125.21 352.92H127.75M125.21 352.02V353.82M127.75 352.02V353.82M124.57 353.82H128.38M129.82 351.12V351.84M129.82 352.56V353.82M130.88 350.94H133.42M132.15 350.40V353.82M130.88 352.38H133.42M131.01 351.66V353.64M130.88 353.71H133.42M135.08 350.58V353.82M134.44 351.66H135.71M136.22 350.76H138.46M136.22 352.20H138.46M136.22 353.71H138.46M136.35 350.76V353.71M138.33 350.76V353.71M139.69 350.76H143.50M139.90 351.84H143.29M139.69 352.92H143.50M139.90 353.82H143.29M140.75 350.76V353.82M142.44 350.76V353.82M144.73 350.83H148.54M146.64 350.40V352.02M145.16 352.02H148.12M145.37 352.92H147.91M145.37 352.02V353.82M147.91 352.02V353.82M144.73 353.82H148.54M149.98 351.12V351.84M149.98 352.56V353.82M151.04 350.94H153.58M152.31 350.40V353.82M151.04 352.38H153.58M151.17 351.66V353.64M151.04 353.71H153.58" fill="none" stroke="#2a2a3a" stroke-width="0.75"/>
<path d="M214.62 350.76H218.49M214.83 351.84H218.28M214.62 352.92H218.49M214.83 353.82H218.28M215.69 350.76V353.82M217.42 350.76V353.82M219.75 350.76H223.62M219.96 351.84H223.41M219.75 352.92H223.62M219.96 353.82H223.41M220.82 350.76V353.82M222.55 350.76V353.82M224.88 350.76H228.75M225.09 351.84H228.54M224.88 352.92H228.75M225.09 353.82H228.54M225.95 350.76V353.82M227.68 350.76V353.82M230.01 350.83H233.88M231.94 350.40V352.02M230.44 352.02H233.45M230.65 352.92H233.24M230.65 352.02V353.82M233.24 352.02V353.82M230.01 353.82H233.88M235.14 350.83H239.01M237.07 350.40V352.02M235.57 352.02H238.58M235.78 352.92H238.37M235.78 352.02V353.82M238.37 352.02V353.82M235.14 353.82H239.01M240.27 350.76H244.14M240.48 351.84H243.93M240.27 352.92H244.14M240.48 353.82H243.93M241.34 350.76V353.82M243.07 350.76V353.82M245.40 350.83H249.27M247.33 350.40V352.02M245.83 352.02H248.84M246.04 352.92H248.63M246.04 352.02V353.82M248.63 352.02V353.82M245.40 353.82H249.27M250.96 350.58V353.82M250.31 351.66H251.60M252.12 350.76H254.40M252.12 352.20H254.40M252.12 353.71H254.40M252.25 350.76V353.71M254.27 350.76V353.71M255.66 350.76H259.53M255.87 351.84H259.32M255.66 352.92H259.53M255.87 353.82H259.32M256.73 350.76V353.82M258.46 350.76V353.82M261.00 351.12V351.84M261.00 352.56V353.82M262.08 350.94H264.66M263.37 350.40V353.82M262.08 352.38H264.66M262.21 351.66V353.64M262.08 353.71H264.66M265.92 350.83H269.79M267.85 350.40V352.02M266.35 352.02H269.36M266.56 352.92H269.15M266.56 352.02V353.82M269.15 352.02V353.82M265.92 353.82H269.79M271.48 350.58V353.82M270.83 351.66H272.12M272.64 350.76H274.92M272.64 352.20H274.92M272.64 353.71H274.92M272.77 350.76V353.71M274.79 350.76V353.71M276.61 350.58V353.82M275.96 351.66H277.25M277.77 350.76H280.05M277.77 352.20H280.05M277.77 353.71H280.05M277.90 350.76V353.71M279.92 350.76V353.71" fill="none" stroke="#2a2a3a" stroke-width="0.70"/>
<path d="M366.61 350.76H370.43M366.82 351.84H370.22M366.61 352.92H370.43M366.82 353.82H370.22M367.67 350.76V353.82M369.37 350.76V353.82M371.87 351.12V351.84M371.87 352.56V353.82M372.93 350.94H375.48M374.21 350.40V353.82M372.93 352.38H375.48M373.06 351.66V353.64M372.93 353.71H375.48M376.92 351.12V351.84M376.92 352.56V353.82M377.98 350.94H380.53M379.26 350.40V353.82M377.98 352.38H380.53M378.11 351.66V353.64M377.98 353.71H380.53M381.76 350.83H385.58M383.67 350.40V352.02M382.19 352.02H385.16M382.40 352.92H384.94M382.40 352.02V353.82M384.94 352.02V353.82M381.76 353.82H385.58M386.81 350.76H390.63M387.02 351.84H390.42M386.81 352.92H390.63M387.02 353.82H390.42M387.87 350.76V353.82M389.57 350.76V353.82M392.29 350.58V353.82M391.65 351.66H392.92M393.43 350.76H395.68M393.43 352.20H395.68M393.43 353.71H395.68M393.56 350.76V353.71M395.55 350.76V353.71M397.12 351.12V351.84M397.12 352.56V353.82M398.18 350.94H400.73M399.46 350.40V353.82M398.18 352.38H400.73M398.31 351.66V353.64M398.18 353.71H400.73M401.96 350.76H405.78M402.17 351.84H405.57M401.96 352.92H405.78M402.17 353.82H405.57M403.02 350.76V353.82M404.72 350.76V353.82M407.22 351.12V351.84M407.22 352.56V353.82M408.28 350.94H410.83M409.56 350.40V353.82M408.28 352.38H410.83M408.41 351.66V353.64M408.28 353.71H410.83M412.06 350.76H415.88M412.27 351.84H415.67M412.06 352.92H415.88M412.27 353.82H415.67M413.12 350.76V353.82M414.82 350.76V353.82M417.11 350.83H420.93M419.02 350.40V352.02M417.54 352.02H420.51M417.75 352.92H420.29M417.75 352.02V353.82M420.29 352.02V353.82M417.11 353.82H420.93" fill="none" stroke="#2a2a3a" stroke-width="0.55"/>
<path d="M490.62 351.12V351.84M490.62 352.56V353.82M491.66 350.94H494.15M492.90 350.40V353.82M491.66 352.38H494.15M491.78 351.66V353.64M491.66 353.71H494.15M495.57 351.12V351.84M495.57 352.56V353.82M496.61 350.94H499.10M497.85 350.40V353.82M496.61 352.38H499.10M496.73 351.66V353.64M496.61 353.71H499.10M500.31 350.83H504.05M502.18 350.40V352.02M500.72 352.02H503.63M500.93 352.92H503.43M500.93 352.02V353.82M503.43 352.02V353.82M500.31 353.82H504.05M505.26 350.83H509.00M507.13 350.40V352.02M505.67 352.02H508.58M505.88 352.92H508.38M505.88 352.02V353.82M508.38 352.02V353.82M505.26 353.82H509.00M510.21 350.83H513.95M512.08 350.40V352.02M510.62 352.02H513.53M510.83 352.92H513.33M510.83 352.02V353.82M513.33 352.02V353.82M510.21 353.82H513.95M515.16 350.83H518.90M517.03 350.40V352.02M515.57 352.02H518.48M515.78 352.92H518.28M515.78 352.02V353.82M518.28 352.02V353.82M515.16 353.82H518.90M520.11 350.83H523.85M521.98 350.40V352.02M520.52 352.02H523.43M520.73 352.92H523.23M520.73 352.02V353.82M523.23 352.02V353.82M520.11 353.82H523.85M525.45 353.20 l0.8 0.8M530.01 350.83H533.75M531.88 350.40V352.02M530.42 352.02H533.33M530.63 352.92H533.13M530.63 352.02V353.82M533.13 352.02V353.82M530.01 353.82H533.75M535.37 350.58V353.82M534.75 351.66H536.00M536.50 350.76H538.70M536.50 352.20H538.70M536.50 353.71H538.70M536.62 350.76V353.71M538.58 350.76V353.71M539.91 350.83H543.65M541.78 350.40V352.02M540.32 352.02H543.23M540.53 352.92H543.03M540.53 352.02V353.82M543.03 352.02V353.82M539.91 353.82H543.65M545.07 351.12V351.84M545.07 352.56V353.82M546.11 350.94H548.60M547.35 350.40V353.82M546.11 352.38H548.60M546.23 351.66V353.64M546.11 353.71H548.60M550.22 350.58V353.82M549.60 351.66H550.85M551.35 350.76H553.55M551.35 352.20H553.55M551.35 353.71H553.55M551.47 350.76V353.71M553.43 350.76V353.71M554.76 350.76H558.50M554.97 351.84H558.29M554.76 352.92H558.50M554.97 353.82H558.29M555.80 350.76V353.82M557.46 350.76V353.82M559.71 350.83H563.45M561.58 350.40V352.02M560.12 352.02H563.03M560.33 352.92H562.83M560.33 352.02V353.82M562.83 352.02V353.82M559.71 353.82H563.45M565.07 350.58V353.82M564.45 351.66H565.70M566.20 350.76H568.40M566.20 352.20H568.40M566.20 353.71H568.40M566.32 350.76V353.71M568.28 350.76V353.71M569.82 351.12V351.84M569.82 352.56V353.82M570.86 350.94H573.35M572.10 350.40V353.82M570.86 352.38H573.35M570.98 351.66V353.64M570.86 353.71H573.35M574.56 350.83H578.30M576.43 350.40V352.02M574.97 352.02H577.88M575.18 352.92H577.68M575.18 352.02V353.82M577.68 352.02V353.82M574.56 353.82H578.30M579.92 350.58V353.82M579.30 351.66H580.55M581.05 350.76H583.25M581.05 352.20H583.25M581.05 353.71H583.25M581.17 350.76V353.71M583.13 350.76V353.71M584.67 351.12V351.84M584.67 352.56V353.82M585.71 350.94H588.20M586.95 350.40V353.82M585.71 352.38H588.20M585.83 351.66V353.64M585.71 353.71H588.20" fill="none" stroke="#2a2a3a" stroke-width="0.75"/>
<path d="M42.51 359.90H46.35M44.43 359.40V361.29M42.94 361.29H45.92M43.15 362.34H45.71M43.15 361.29V363.39M45.71 361.29V363.39M42.51 363.39H46.35M47.58 359.82H51.42M47.80 361.08H51.20M47.58 362.34H51.42M47.80 363.39H51.20M48.65 359.82V363.39M50.35 359.82V363.39M52.65 359.82H56.49M52.87 361.08H56.27M52.65 362.34H56.49M52.87 363.39H56.27M53.72 359.82V363.39M55.42 359.82V363.39M57.72 359.90H61.56M59.64 359.40V361.29M58.15 361.29H61.13M58.36 362.34H60.92M58.36 361.29V363.39M60.92 361.29V363.39M57.72 363.39H61.56M62.79 359.82H66.63M63.01 361.08H66.41M62.79 362.34H66.63M63.01 363.39H66.41M63.86 359.82V363.39M65.56 359.82V363.39M68.08 360.24V361.08M68.08 361.92V363.39M69.14 360.03H71.70M70.42 359.40V363.39M69.14 361.71H71.70M69.27 360.87V363.18M69.14 363.26H71.70M72.93 359.82H76.77M73.15 361.08H76.55M72.93 362.34H76.77M73.15 363.39H76.55M74.00 359.82V363.39M75.70 359.82V363.39M78.43 359.61V363.39M77.79 360.87H79.07M79.58 359.82H81.84M79.58 361.50H81.84M79.58 363.26H81.84M79.71 359.82V363.26M81.71 359.82V363.26M83.50 359.61V363.39M82.86 360.87H84.14M84.65 359.82H86.91M84.65 361.50H86.91M84.65 363.26H86.91M84.78 359.82V363.26M86.78 359.82V363.26M88.57 359.61V363.39M87.93 360.87H89.21M89.72 359.82H91.98M89.72 361.50H91.98M89.72 363.26H91.98M89.85 359.82V363.26M91.85 359.82V363.26M93.21 359.82H97.05M93.43 361.08H96.83M93.21 362.34H97.05M93.43 363.39H96.83M94.28 359.82V363.39M95.98 359.82V363.39M98.50 360.24V361.08M98.50 361.92V363.39M99.56 360.03H102.12M100.84 359.40V363.39M99.56 361.71H102.12M99.69 360.87V363.18M99.56 363.26H102.12M103.78 359.61V363.39M103.14 360.87H104.42M104.93 359.82H107.19M104.93 361.50H107.19M104.93 363.26H107.19M105.06 359.82V363.26M107.06 359.82V363.26M108.42 359.90H112.26M110.34 359.40V361.29M108.85 361.29H111.83M109.06 362.34H111.62M109.06 361.29V363.39M111.62 361.29V363.39M108.42 363.39H112.26M113.71 360.24V361.08M113.71 361.92V363.39M114.77 360.03H117.33M116.05 359.40V363.39M114.77 361.71H117.33M114.90 360.87V363.18M114.77 363.26H117.33M118.56 359.90H122.40M120.48 359.40V361.29M118.99 361.29H121.97M119.20 362.34H121.76M119.20 361.29V363.39M121.76 361.29V363.39M118.56 363.39H122.40M123.85 360.24V361.08M123.85 361.92V363.39M124.91 360.03H127.47M126.19 359.40V363.39M124.91 361.71H127.47M125.04 360.87V363.18M124.91 363.26H127.47M128.70 359.90H132.54M130.62 359.40V361.29M129.13 361.29H132.11M129.34 362.34H131.90M129.34 361.29V363.39M131.90 361.29V363.39M128.70 363.39H132.54M133.77 359.90H137.61M135.69 359.40V361.29M134.20 361.29H137.18M134.41 362.34H136.97M134.41 361.29V363.39M136.97 361.29V363.39M133.77 363.39H137.61M138.84 359.90H142.68M140.76 359.40V361.29M139.27 361.29H142.25M139.48 362.34H142.04M139.48 361.29V363.39M142.04 361.29V363.39M138.84 363.39H142.68M143.91 359.90H147.75M145.83 359.40V361.29M144.34 361.29H147.32M144.55 362.34H147.11M144.55 361.29V363.39M147.11 361.29V363.39M143.91 363.39H147.75M149.20 360.24V361.08M149.20 361.92V363.39M150.26 360.03H152.82M151.54 359.40V363.39M150.26 361.71H152.82M150.39 360.87V363.18M150.26 363.26H152.82M154.27 360.24V361.08M154.27 361.92V363.39M155.33 360.03H157.89M156.61 359.40V363.39M155.33 361.71H157.89M155.46 360.87V363.18M155.33 363.26H157.89M159.12 359.82H162.96M159.34 361.08H162.74M159.12 362.34H162.96M159.34 363.39H162.74M160.19 359.82V363.39M161.89 359.82V363.39" fill="none" stroke="#3c3c3c" stroke-width="0.52"/>
<path d="M42.51 367.90H46.35M44.43 367.40V369.29M42.94 369.29H45.92M43.15 370.34H45.71M43.15 369.29V371.39M45.71 369.29V371.39M42.51 371.39H46.35M47.80 368.24V369.08M47.80 369.92V371.39M48.86 368.03H51.42M50.14 367.40V371.39M48.86 369.71H51.42M48.99 368.87V371.18M48.86 371.26H51.42M52.65 367.82H56.49M52.87 369.08H56.27M52.65 370.34H56.49M52.87 371.39H56.27M53.72 367.82V371.39M55.42 367.82V371.39M58.15 367.61V371.39M57.51 368.87H58.79M59.30 367.82H61.56M59.30 369.50H61.56M59.30 371.26H61.56M59.43 367.82V371.26M61.43 367.82V371.26M62.79 367.90H66.63M64.71 367.40V369.29M63.22 369.29H66.20M63.43 370.34H65.99M63.43 369.29V371.39M65.99 369.29V371.39M62.79 371.39H66.63M67.86 367.90H71.70M69.78 367.40V369.29M68.29 369.29H71.27M68.50 370.34H71.06M68.50 369.29V371.39M71.06 369.29V371.39M67.86 371.39H71.70M73.15 368.24V369.08M73.15 369.92V371.39M74.21 368.03H76.77M75.49 367.40V371.39M74.21 369.71H76.77M74.34 368.87V371.18M74.21 371.26H76.77M78.00 367.82H81.84M78.22 369.08H81.62M78.00 370.34H81.84M78.22 371.39H81.62M79.07 367.82V371.39M80.77 367.82V371.39M83.07 367.90H86.91M84.99 367.40V369.29M83.50 369.29H86.48M83.71 370.34H86.27M83.71 369.29V371.39M86.27 369.29V371.39M83.07 371.39H86.91M88.36 368.24V369.08M88.36 369.92V371.39M89.42 368.03H91.98M90.70 367.40V371.39M89.42 369.71H91.98M89.55 368.87V371.18M89.42 371.26H91.98M93.21 367.82H97.05M93.43 369.08H96.83M93.21 370.34H97.05M93.43 371.39H96.83M94.28 367.82V371.39M95.98 367.82V371.39M98.71 367.61V371.39M98.07 368.87H99.35M99.86 367.82H102.12M99.86 369.50H102.12M99.86 371.26H102.12M99.99 367.82V371.26M101.99 367.82V371.26M103.57 368.24V369.08M103.57 369.92V371.39M104.63 368.03H107.19M105.91 367.40V371.39M104.63 369.71H107.19M104.76 368.87V371.18M104.63 371.26H107.19M108.42 367.90H112.26M110.34 367.40V369.29M108.85 369.29H111.83M109.06 370.34H111.62M109.06 369.29V371.39M111.62 369.29V371.39M108.42 371.39H112.26M113.49 367.90H117.33M115.41 367.40V369.29M113.92 369.29H116.90M114.13 370.34H116.69M114.13 369.29V371.39M116.69 369.29V371.39M113.49 371.39H117.33M118.99 367.61V371.39M118.35 368.87H119.63M120.14 367.82H122.40M120.14 369.50H122.40M120.14 371.26H122.40M120.27 367.82V371.26M122.27 367.82V371.26" fill="none" stroke="#3c3c3c" stroke-width="0.52"/>
<path d="M185.91 359.82H189.75M186.13 361.08H189.53M185.91 362.34H189.75M186.13 363.39H189.53M186.98 359.82V363.39M188.68 359.82V363.39M190.98 359.90H194.82M192.90 359.40V361.29M191.41 361.29H194.39M191.62 362.34H194.18M191.62 361.29V363.39M194.18 361.29V363.39M190.98 363.39H194.82M196.05 359.82H199.89M196.27 361.08H199.67M196.05 362.34H199.89M196.27 363.39H199.67M197.12 359.82V363.39M198.82 359.82V363.39M201.12 359.82H204.96M201.34 361.08H204.74M201.12 362.34H204.96M201.34 363.39H204.74M202.19 359.82V363.39M203.89 359.82V363.39M206.41 360.24V361.08M206.41 361.92V363.39M207.47 360.03H210.03M208.75 359.40V363.39M207.47 361.71H210.03M207.60 360.87V363.18M207.47 363.26H210.03M211.69 359.61V363.39M211.05 360.87H212.33M212.84 359.82H215.10M212.84 361.50H215.10M212.84 363.26H215.10M212.97 359.82V363.26M214.97 359.82V363.26M216.33 359.82H220.17M216.55 361.08H219.95M216.33 362.34H220.17M216.55 363.39H219.95M217.40 359.82V363.39M219.10 359.82V363.39M221.62 360.24V361.08M221.62 361.92V363.39M222.68 360.03H225.24M223.96 359.40V363.39M222.68 361.71H225.24M222.81 360.87V363.18M222.68 363.26H225.24M226.90 359.61V363.39M226.26 360.87H227.54M228.05 359.82H230.31M228.05 361.50H230.31M228.05 363.26H230.31M228.18 359.82V363.26M230.18 359.82V363.26M231.97 359.61V363.39M231.33 360.87H232.61M233.12 359.82H235.38M233.12 361.50H235.38M233.12 363.26H235.38M233.25 359.82V363.26M235.25 359.82V363.26M237.04 359.61V363.39M236.40 360.87H237.68M238.19 359.82H240.45M238.19 361.50H240.45M238.19 363.26H240.45M238.32 359.82V363.26M240.32 359.82V363.26M241.68 359.90H245.52M243.60 359.40V361.29M242.11 361.29H245.09M242.32 362.34H244.88M242.32 361.29V363.39M244.88 361.29V363.39M241.68 363.39H245.52M246.75 359.82H250.59M246.97 361.08H250.37M246.75 362.34H250.59M246.97 363.39H250.37M247.82 359.82V363.39M249.52 359.82V363.39M252.25 359.61V363.39M251.61 360.87H252.89M253.40 359.82H255.66M253.40 361.50H255.66M253.40 363.26H255.66M253.53 359.82V363.26M255.53 359.82V363.26M256.89 359.82H260.73M257.11 361.08H260.51M256.89 362.34H260.73M257.11 363.39H260.51M257.96 359.82V363.39M259.66 359.82V363.39M261.96 359.90H265.80M263.88 359.40V361.29M262.39 361.29H265.37M262.60 362.34H265.16M262.60 361.29V363.39M265.16 361.29V363.39M261.96 363.39H265.80M267.25 360.24V361.08M267.25 361.92V363.39M268.31 360.03H270.87M269.59 359.40V363.39M268.31 361.71H270.87M268.44 360.87V363.18M268.31 363.26H270.87M272.32 360.24V361.08M272.32 361.92V363.39M273.38 360.03H275.94M274.66 359.40V363.39M273.38 361.71H275.94M273.51 360.87V363.18M273.38 363.26H275.94M277.39 360.24V361.08M277.39 361.92V363.39M278.45 360.03H281.01M279.73 359.40V363.39M278.45 361.71H281.01M278.58 360.87V363.18M278.45 363.26H281.01M282.46 360.24V361.08M282.46 361.92V363.39M283.52 360.03H286.08M284.80 359.40V363.39M283.52 361.71H286.08M283.65 360.87V363.18M283.52 363.26H286.08M287.74 359.61V363.39M287.10 360.87H288.38M288.89 359.82H291.15M288.89 361.50H291.15M288.89 363.26H291.15M289.02 359.82V363.26M291.02 359.82V363.26M292.38 359.82H296.22M292.60 361.08H296.00M292.38 362.34H296.22M292.60 363.39H296.00M293.45 359.82V363.39M295.15 359.82V363.39M297.45 359.82H301.29M297.67 361.08H301.07M297.45 362.34H301.29M297.67 363.39H301.07M298.52 359.82V363.39M300.22 359.82V363.39M302.74 360.24V361.08M302.74 361.92V363.39M303.80 360.03H306.36M305.08 359.40V363.39M303.80 361.71H306.36M303.93 360.87V363.18M303.80 363.26H306.36" fill="none" stroke="#3c3c3c" stroke-width="0.52"/>
<path d="M185.91 367.90H189.75M187.83 367.40V369.29M186.34 369.29H189.32M186.55 370.34H189.11M186.55 369.29V371.39M189.11 369.29V371.39M185.91 371.39H189.75M191.20 368.24V369.08M191.20 369.92V371.39M192.26 368.03H194.82M193.54 367.40V371.39M192.26 369.71H194.82M192.39 368.87V371.18M192.26 371.26H194.82M196.05 367.82H199.89M196.27 369.08H199.67M196.05 370.34H199.89M196.27 371.39H199.67M197.12 367.82V371.39M198.82 367.82V371.39M201.12 367.90H204.96M203.04 367.40V369.29M201.55 369.29H204.53M201.76 370.34H204.32M201.76 369.29V371.39M204.32 369.29V371.39M201.12 371.39H204.96M206.19 367.82H210.03M206.41 369.08H209.81M206.19 370.34H210.03M206.41 371.39H209.81M207.26 367.82V371.39M208.96 367.82V371.39M211.26 367.82H215.10M211.48 369.08H214.88M211.26 370.34H215.10M211.48 371.39H214.88M212.33 367.82V371.39M214.03 367.82V371.39M216.33 367.90H220.17M218.25 367.40V369.29M216.76 369.29H219.74M216.97 370.34H219.53M216.97 369.29V371.39M219.53 369.29V371.39M216.33 371.39H220.17M221.40 367.90H225.24M223.32 367.40V369.29M221.83 369.29H224.81M222.04 370.34H224.60M222.04 369.29V371.39M224.60 369.29V371.39M221.40 371.39H225.24M226.47 367.82H230.31M226.69 369.08H230.09M226.47 370.34H230.31M226.69 371.39H230.09M227.54 367.82V371.39M229.24 367.82V371.39M231.54 367.90H235.38M233.46 367.40V369.29M231.97 369.29H234.95M232.18 370.34H234.74M232.18 369.29V371.39M234.74 369.29V371.39M231.54 371.39H235.38M236.61 367.90H240.45M238.53 367.40V369.29M237.04 369.29H240.02M237.25 370.34H239.81M237.25 369.29V371.39M239.81 369.29V371.39M236.61 371.39H240.45" fill="none" stroke="#3c3c3c" stroke-width="0.52"/>
<path d="M330.91 359.90H334.61M332.76 359.40V361.29M331.32 361.29H334.20M331.52 362.34H333.99M331.52 361.29V363.39M333.99 361.29V363.39M330.91 363.39H334.61M335.81 359.90H339.51M337.66 359.40V361.29M336.22 361.29H339.10M336.42 362.34H338.89M336.42 361.29V363.39M338.89 361.29V363.39M335.81 363.39H339.51M340.71 359.82H344.41M340.91 361.08H344.20M340.71 362.34H344.41M340.91 363.39H344.20M341.73 359.82V363.39M343.38 359.82V363.39M346.02 359.61V363.39M345.40 360.87H346.63M347.13 359.82H349.31M347.13 361.50H349.31M347.13 363.26H349.31M347.25 359.82V363.26M349.19 359.82V363.26M350.71 360.24V361.08M350.71 361.92V363.39M351.74 360.03H354.21M352.98 359.40V363.39M351.74 361.71H354.21M351.86 360.87V363.18M351.74 363.26H354.21M355.41 359.90H359.11M357.26 359.40V361.29M355.82 361.29H358.70M356.02 362.34H358.49M356.02 361.29V363.39M358.49 361.29V363.39M355.41 363.39H359.11M360.31 359.90H364.01M362.16 359.40V361.29M360.72 361.29H363.60M360.92 362.34H363.39M360.92 361.29V363.39M363.39 361.29V363.39M360.31 363.39H364.01M365.41 360.24V361.08M365.41 361.92V363.39M366.44 360.03H368.91M367.68 359.40V363.39M366.44 361.71H368.91M366.56 360.87V363.18M366.44 363.26H368.91M370.31 360.24V361.08M370.31 361.92V363.39M371.34 360.03H373.81M372.58 359.40V363.39M371.34 361.71H373.81M371.46 360.87V363.18M371.34 363.26H373.81M375.21 360.24V361.08M375.21 361.92V363.39M376.24 360.03H378.71M377.48 359.40V363.39M376.24 361.71H378.71M376.36 360.87V363.18M376.24 363.26H378.71M379.91 359.90H383.61M381.76 359.40V361.29M380.32 361.29H383.20M380.52 362.34H382.99M380.52 361.29V363.39M382.99 361.29V363.39M379.91 363.39H383.61M385.22 359.61V363.39M384.60 360.87H385.83M386.33 359.82H388.51M386.33 361.50H388.51M386.33 363.26H388.51M386.45 359.82V363.26M388.39 359.82V363.26M389.91 360.24V361.08M389.91 361.92V363.39M390.94 360.03H393.41M392.18 359.40V363.39M390.94 361.71H393.41M391.06 360.87V363.18M390.94 363.26H393.41M394.81 360.24V361.08M394.81 361.92V363.39M395.84 360.03H398.31M397.08 359.40V363.39M395.84 361.71H398.31M395.96 360.87V363.18M395.84 363.26H398.31M399.51 359.90H403.21M401.36 359.40V361.29M399.92 361.29H402.80M400.12 362.34H402.59M400.12 361.29V363.39M402.59 361.29V363.39M399.51 363.39H403.21M404.61 360.24V361.08M404.61 361.92V363.39M405.64 360.03H408.11M406.88 359.40V363.39M405.64 361.71H408.11M405.76 360.87V363.18M405.64 363.26H408.11M409.51 360.24V361.08M409.51 361.92V363.39M410.54 360.03H413.01M411.78 359.40V363.39M410.54 361.71H413.01M410.66 360.87V363.18M410.54 363.26H413.01M414.41 360.24V361.08M414.41 361.92V363.39M415.44 360.03H417.91M416.68 359.40V363.39M415.44 361.71H417.91M415.56 360.87V363.18M415.44 363.26H417.91M419.11 359.90H422.81M420.96 359.40V361.29M419.52 361.29H422.40M419.72 362.34H422.19M419.72 361.29V363.39M422.19 361.29V363.39M419.11 363.39H422.81M424.01 359.90H427.71M425.86 359.40V361.29M424.42 361.29H427.30M424.62 362.34H427.09M424.62 361.29V363.39M427.09 361.29V363.39M424.01 363.39H427.71M429.32 359.61V363.39M428.70 360.87H429.93M430.43 359.82H432.61M430.43 361.50H432.61M430.43 363.26H432.61M430.55 359.82V363.26M432.49 359.82V363.26M433.81 359.82H437.51M434.01 361.08H437.30M433.81 362.34H437.51M434.01 363.39H437.30M434.83 359.82V363.39M436.48 359.82V363.39M438.71 359.90H442.41M440.56 359.40V361.29M439.12 361.29H442.00M439.32 362.34H441.79M439.32 361.29V363.39M441.79 361.29V363.39M438.71 363.39H442.41M443.61 359.90H447.31M445.46 359.40V361.29M444.02 361.29H446.90M444.22 362.34H446.69M444.22 361.29V363.39M446.69 361.29V363.39M443.61 363.39H447.31" fill="none" stroke="#3c3c3c" stroke-width="0.52"/>
<path d="M475.91 359.82H479.61M476.11 361.08H479.40M475.91 362.34H479.61M476.11 363.39H479.40M476.93 359.82V363.39M478.58 359.82V363.39M481.01 360.24V361.08M481.01 361.92V363.39M482.04 360.03H484.51M483.28 359.40V363.39M482.04 361.71H484.51M482.16 360.87V363.18M482.04 363.26H484.51M485.71 359.82H489.41M485.91 361.08H489.20M485.71 362.34H489.41M485.91 363.39H489.20M486.73 359.82V363.39M488.38 359.82V363.39M490.61 359.82H494.31M490.81 361.08H494.10M490.61 362.34H494.31M490.81 363.39H494.10M491.63 359.82V363.39M493.28 359.82V363.39M495.92 359.61V363.39M495.30 360.87H496.53M497.03 359.82H499.21M497.03 361.50H499.21M497.03 363.26H499.21M497.15 359.82V363.26M499.09 359.82V363.26M500.61 360.24V361.08M500.61 361.92V363.39M501.64 360.03H504.11M502.88 359.40V363.39M501.64 361.71H504.11M501.76 360.87V363.18M501.64 363.26H504.11M505.31 359.90H509.01M507.16 359.40V361.29M505.72 361.29H508.60M505.92 362.34H508.39M505.92 361.29V363.39M508.39 361.29V363.39M505.31 363.39H509.01M510.41 360.24V361.08M510.41 361.92V363.39M511.44 360.03H513.91M512.68 359.40V363.39M511.44 361.71H513.91M511.56 360.87V363.18M511.44 363.26H513.91M515.11 359.90H518.81M516.96 359.40V361.29M515.52 361.29H518.40M515.72 362.34H518.19M515.72 361.29V363.39M518.19 361.29V363.39M515.11 363.39H518.81M520.21 360.24V361.08M520.21 361.92V363.39M521.24 360.03H523.71M522.48 359.40V363.39M521.24 361.71H523.71M521.36 360.87V363.18M521.24 363.26H523.71M525.32 359.61V363.39M524.70 360.87H525.93M526.43 359.82H528.61M526.43 361.50H528.61M526.43 363.26H528.61M526.55 359.82V363.26M528.49 359.82V363.26M529.81 359.90H533.51M531.66 359.40V361.29M530.22 361.29H533.10M530.42 362.34H532.89M530.42 361.29V363.39M532.89 361.29V363.39M529.81 363.39H533.51M534.91 360.24V361.08M534.91 361.92V363.39M535.94 360.03H538.41M537.18 359.40V363.39M535.94 361.71H538.41M536.06 360.87V363.18M535.94 363.26H538.41M540.02 359.61V363.39M539.40 360.87H540.63M541.13 359.82H543.31M541.13 361.50H543.31M541.13 363.26H543.31M541.25 359.82V363.26M543.19 359.82V363.26M544.51 359.82H548.21M544.71 361.08H548.00M544.51 362.34H548.21M544.71 363.39H548.00M545.53 359.82V363.39M547.18 359.82V363.39M549.82 359.61V363.39M549.20 360.87H550.43M550.93 359.82H553.11M550.93 361.50H553.11M550.93 363.26H553.11M551.05 359.82V363.26M552.99 359.82V363.26M554.51 360.24V361.08M554.51 361.92V363.39M555.54 360.03H558.01M556.78 359.40V363.39M555.54 361.71H558.01M555.66 360.87V363.18M555.54 363.26H558.01M559.21 359.90H562.91M561.06 359.40V361.29M559.62 361.29H562.50M559.82 362.34H562.29M559.82 361.29V363.39M562.29 361.29V363.39M559.21 363.39H562.91M564.52 359.61V363.39M563.90 360.87H565.13M565.63 359.82H567.81M565.63 361.50H567.81M565.63 363.26H567.81M565.75 359.82V363.26M567.69 359.82V363.26M569.01 359.82H572.71M569.21 361.08H572.50M569.01 362.34H572.71M569.21 363.39H572.50M570.03 359.82V363.39M571.68 359.82V363.39M573.91 359.82H577.61M574.11 361.08H577.40M573.91 362.34H577.61M574.11 363.39H577.40M574.93 359.82V363.39M576.58 359.82V363.39M579.01 360.24V361.08M579.01 361.92V363.39M580.04 360.03H582.51M581.28 359.40V363.39M580.04 361.71H582.51M580.16 360.87V363.18M580.04 363.26H582.51M583.71 359.82H587.41M583.91 361.08H587.20M583.71 362.34H587.41M583.91 363.39H587.20M584.73 359.82V363.39M586.38 359.82V363.39M588.61 359.82H592.31M588.81 361.08H592.10M588.61 362.34H592.31M588.81 363.39H592.10M589.63 359.82V363.39M591.28 359.82V363.39M593.51 359.82H597.21M593.71 361.08H597.00M593.51 362.34H597.21M593.71 363.39H597.00M594.53 359.82V363.39M596.18 359.82V363.39" fill="none" stroke="#3c3c3c" stroke-width="0.52"/>
<path d="M476.11 368.24V369.08M476.11 369.92V371.39M477.14 368.03H479.61M478.38 367.40V371.39M477.14 369.71H479.61M477.26 368.87V371.18M477.14 371.26H479.61M481.01 368.24V369.08M481.01 369.92V371.39M482.04 368.03H484.51M483.28 367.40V371.39M482.04 369.71H484.51M482.16 368.87V371.18M482.04 371.26H484.51M486.12 367.61V371.39M485.50 368.87H486.73M487.23 367.82H489.41M487.23 369.50H489.41M487.23 371.26H489.41M487.35 367.82V371.26M489.29 367.82V371.26M490.61 367.82H494.31M490.81 369.08H494.10M490.61 370.34H494.31M490.81 371.39H494.10M491.63 367.82V371.39M493.28 367.82V371.39M495.71 368.24V369.08M495.71 369.92V371.39M496.74 368.03H499.21M497.98 367.40V371.39M496.74 369.71H499.21M496.86 368.87V371.18M496.74 371.26H499.21M500.82 367.61V371.39M500.20 368.87H501.43M501.93 367.82H504.11M501.93 369.50H504.11M501.93 371.26H504.11M502.05 367.82V371.26M503.99 367.82V371.26M505.31 367.82H509.01M505.51 369.08H508.80M505.31 370.34H509.01M505.51 371.39H508.80M506.33 367.82V371.39M507.98 367.82V371.39M510.62 367.61V371.39M510.00 368.87H511.23M511.73 367.82H513.91M511.73 369.50H513.91M511.73 371.26H513.91M511.85 367.82V371.26M513.79 367.82V371.26M515.31 368.24V369.08M515.31 369.92V371.39M516.34 368.03H518.81M517.58 367.40V371.39M516.34 369.71H518.81M516.46 368.87V371.18M516.34 371.26H518.81M520.42 367.61V371.39M519.80 368.87H521.03M521.53 367.82H523.71M521.53 369.50H523.71M521.53 371.26H523.71M521.65 367.82V371.26M523.59 367.82V371.26M524.91 367.90H528.61M526.76 367.40V369.29M525.32 369.29H528.20M525.52 370.34H527.99M525.52 369.29V371.39M527.99 369.29V371.39M524.91 371.39H528.61M529.81 367.90H533.51M531.66 367.40V369.29M530.22 369.29H533.10M530.42 370.34H532.89M530.42 369.29V371.39M532.89 369.29V371.39M529.81 371.39H533.51M534.71 367.82H538.41M534.91 369.08H538.20M534.71 370.34H538.41M534.91 371.39H538.20M535.73 367.82V371.39M537.38 367.82V371.39M539.61 367.82H543.31M539.81 369.08H543.10M539.61 370.34H543.31M539.81 371.39H543.10M540.63 367.82V371.39M542.28 367.82V371.39M544.51 367.90H548.21M546.36 367.40V369.29M544.92 369.29H547.80M545.12 370.34H547.59M545.12 369.29V371.39M547.59 369.29V371.39M544.51 371.39H548.21M549.41 367.90H553.11M551.26 367.40V369.29M549.82 369.29H552.70M550.02 370.34H552.49M550.02 369.29V371.39M552.49 369.29V371.39M549.41 371.39H553.11" fill="none" stroke="#3c3c3c" stroke-width="0.52"/>
</g>
<!-- /boxes -->
<!-- shots -->
<defs>
<linearGradient id="tb1" x1="0" x2="1"><stop offset="0" stop-color="#0a1e78"/><stop offset="1" stop-color="#6a88d0"/></linearGradient>
<linearGradient id="tb3" x1="0" x2="1"><stop offset="0" stop-color="#0a2070"/><stop offset="1" stop-color="#a8c0e8"/></linearGradient>
<linearGradient id="tb4" x1="0" x2="1"><stop offset="0" stop-color="#0a2470"/><stop offset="0.6" stop-color="#3a70a0"/><stop offset="1" stop-color="#50c050"/></linearGradient>
<linearGradient id="olive" x1="0" y1="0" x2="0" y2="1"><stop offset="0" stop-color="#6a6814"/><stop offset="1" stop-color="#c4bc1c"/></linearGradient>
</defs>
<rect x="43.0" y="375.0" width="118.4" height="87.8" fill="#d6d3ca"/>
<rect x="43" y="375" width="118.4" height="2.2" fill="url(#tb1)"/>
<rect x="43" y="377.2" width="118.4" height="2.4" fill="#c9c9c9"/>
<path d="M45 378.4h8M56 378.4h6M64 378.4h5M71 378.4h8M82 378.4h10M96 378.4h6" stroke="#555" stroke-width="0.6"/>
<rect x="43" y="379.6" width="118.4" height="3.8" fill="#dcd8ce"/>
<path d="M46 381.5h2M50 381.5h2M56 381.5h2M61 381.5h3M66 381.5h2M76 381.5h4M96 381.5h4M108 381.5h8M121 381.5h6M133 381.5h8M145 381.5h8" stroke="#6a7aa0" stroke-width="1.1"/>
<rect x="43.2" y="383.6" width="22.3" height="79" fill="#f3efd6"/>
<rect x="43.2" y="384.4" width="22.3" height="2" fill="#2a3f8f"/>
<rect x="65.2" y="383.6" width="1" height="79" fill="#5570b0"/>
<rect x="43.2" y="383.6" width="0.8" height="79" fill="#8090c0"/>
<rect x="46.9" y="391.7" width="16" height="3.3" fill="#fdfdfb" stroke="#a8a8a0" stroke-width="0.4"/>
<rect x="51" y="392.7" width="8" height="1.3" fill="#555"/>
<rect x="46.9" y="396.4" width="16" height="3.3" fill="#fdfdfb" stroke="#a8a8a0" stroke-width="0.4"/>
<rect x="51" y="397.4" width="8" height="1.3" fill="#555"/>
<rect x="46.9" y="401.1" width="16" height="3.3" fill="#fdfdfb" stroke="#a8a8a0" stroke-width="0.4"/>
<rect x="51" y="402.1" width="8" height="1.3" fill="#555"/>
<rect x="46.9" y="405.8" width="16" height="3.3" fill="#fdfdfb" stroke="#a8a8a0" stroke-width="0.4"/>
<rect x="51" y="406.8" width="8" height="1.3" fill="#555"/>
<rect x="46.9" y="410.5" width="16" height="3.3" fill="#fdfdfb" stroke="#a8a8a0" stroke-width="0.4"/>
<rect x="51" y="411.5" width="8" height="1.3" fill="#555"/>
<rect x="46.9" y="415.2" width="16" height="3.3" fill="#fdfdfb" stroke="#a8a8a0" stroke-width="0.4"/>
<rect x="51" y="416.2" width="8" height="1.3" fill="#555"/>
<rect x="46.9" y="419.9" width="16" height="3.3" fill="#fdfdfb" stroke="#a8a8a0" stroke-width="0.4"/>
<rect x="51" y="420.9" width="8" height="1.3" fill="#555"/>
<rect x="51" y="388.4" width="8" height="1" fill="#6a6aa0"/>
<rect x="43.8" y="425" width="21" height="0.6" fill="#a0a0a0"/>
<rect x="47" y="427" width="15" height="2.4" fill="#fff" stroke="#a8a8a0" stroke-width="0.3"/><rect x="49" y="427.6" width="8" height="1" fill="#d05050"/>
<rect x="46.9" y="431.5" width="16" height="3.3" fill="#fdfdfb" stroke="#a8a8a0" stroke-width="0.4"/>
<rect x="51" y="432.5" width="8" height="1.3" fill="#555"/>
<rect x="46.9" y="436.2" width="16" height="3.3" fill="#fdfdfb" stroke="#a8a8a0" stroke-width="0.4"/>
<rect x="51" y="437.2" width="8" height="1.3" fill="#555"/>
<rect x="46.9" y="440.9" width="16" height="3.3" fill="#fdfdfb" stroke="#a8a8a0" stroke-width="0.4"/>
<rect x="51" y="441.9" width="8" height="1.3" fill="#555"/>
<rect x="50" y="450" width="8" height="1" fill="#d07040"/><rect x="46" y="454.5" width="16" height="1" fill="#6060c0"/>
<rect x="66.2" y="383.6" width="95.2" height="7.6" fill="#3850a8"/>
<rect x="74.7" y="385" width="9.0" height="2.4" fill="#fff"/><rect x="74.7" y="388" width="9.0" height="2.4" fill="#fff"/>
<rect x="92.7" y="385" width="9.0" height="2.4" fill="#fff"/><rect x="92.7" y="388" width="9.0" height="2.4" fill="#fff"/>
<rect x="111.4" y="385" width="9.0" height="2.4" fill="#fff"/><rect x="111.4" y="388" width="9.0" height="2.4" fill="#fff"/>
<rect x="130.1" y="385" width="8.2" height="2.4" fill="#fff"/><rect x="130.1" y="388" width="8.2" height="2.4" fill="#fff"/>
<rect x="139.8" y="385.2" width="20.2" height="4.6" fill="#a4acdc"/>
<path d="M67 385.8h6M67 388.6h6M85 385.8h6M85 388.6h6M104 385.8h6M104 388.6h6M123 385.8h6M123 388.6h6" stroke="#a8c0f0" stroke-width="0.7"/>
<rect x="66.5" y="391.3" width="75.5" height="2" fill="#c8c8c8"/>
<rect x="66.5" y="391.3" width="75.5" height="28.5" fill="#f2f2ee"/>
<rect x="66.5" y="391.3" width="75.5" height="1.3" fill="#c8c8c8"/>
<path d="M71 394.5h4M78 394.5h10M84 394.5h4M96 394.5h4M102 394.5h10M108 394.5h4M119 394.5h4M126 394.5h10M134 394.5h5" stroke="#7080a8" stroke-width="0.7"/>
<path d="M71 396.5h4M78 396.5h10M84 396.5h4M96 396.5h4M102 396.5h10M108 396.5h4M119 396.5h4M126 396.5h10M134 396.5h5" stroke="#7080a8" stroke-width="0.7"/>
<path d="M71 398.5h4M78 398.5h10M84 398.5h4M96 398.5h4M102 398.5h10M108 398.5h4M119 398.5h4M126 398.5h10M134 398.5h5" stroke="#7080a8" stroke-width="0.7"/>
<path d="M71 403.0h4M78 403.0h10M84 403.0h4M96 403.0h4M102 403.0h10M108 403.0h4M119 403.0h4M126 403.0h10M134 403.0h5" stroke="#7080a8" stroke-width="0.7"/>
<path d="M71 405.0h4M78 405.0h10M84 405.0h4M96 405.0h4M102 405.0h10M108 405.0h4M119 405.0h4M126 405.0h10M134 405.0h5" stroke="#7080a8" stroke-width="0.7"/>
<path d="M71 409.5h4M78 409.5h10M84 409.5h4M96 409.5h4M102 409.5h10M108 409.5h4M119 409.5h4M126 409.5h10M134 409.5h5" stroke="#7080a8" stroke-width="0.7"/>
<path d="M71 411.5h4M78 411.5h10M84 411.5h4M96 411.5h4M102 411.5h10M108 411.5h4M119 411.5h4M126 411.5h10M134 411.5h5" stroke="#7080a8" stroke-width="0.7"/>
<path d="M71 413.5h4M78 413.5h10M84 413.5h4M96 413.5h4M102 413.5h10M108 413.5h4M119 413.5h4M126 413.5h10M134 413.5h5" stroke="#7080a8" stroke-width="0.7"/>
<path d="M71 415.5h4M78 415.5h10M84 415.5h4M96 415.5h4M102 415.5h10M108 415.5h4M119 415.5h4M126 415.5h10M134 415.5h5" stroke="#7080a8" stroke-width="0.7"/>
<path d="M71 418.5h4M78 418.5h10M84 418.5h4M96 418.5h4M102 418.5h10M108 418.5h4M119 418.5h4M126 418.5h10M134 418.5h5" stroke="#7080a8" stroke-width="0.7"/>
<rect x="142" y="391.3" width="19.4" height="29" fill="#e6e4dc"/>
<rect x="144" y="396.0" width="15" height="3" fill="#fff" stroke="#a0a0a0" stroke-width="0.3"/><rect x="148" y="396.9" width="7" height="1.2" fill="#444"/>
<rect x="144" y="402.5" width="15" height="3" fill="#fff" stroke="#a0a0a0" stroke-width="0.3"/><rect x="148" y="403.4" width="7" height="1.2" fill="#444"/>
<rect x="144" y="409.5" width="15" height="3" fill="#fff" stroke="#a0a0a0" stroke-width="0.3"/><rect x="148" y="410.4" width="7" height="1.2" fill="#444"/>
<rect x="144" y="416.0" width="15" height="3" fill="#fff" stroke="#a0a0a0" stroke-width="0.3"/><rect x="148" y="416.9" width="7" height="1.2" fill="#444"/>
<rect x="66.2" y="420.8" width="95.2" height="2.2" fill="#23389a"/>
<rect x="66.2" y="423" width="93.6" height="34" fill="#c8d0e0"/>
<rect x="67.1" y="424" width="5.6" height="32" fill="#3e5cb4"/>
<rect x="69.3" y="426" width="1.2" height="27" fill="#c8d4f0" opacity="0.6"/>
<rect x="73" y="424" width="86" height="30.5" fill="#eaf4f6"/>
<path d="M81 424v30M89 424v30M97 424v30M105 424v30M113 424v30M121 424v30M129 424v30M137 424v30M145 424v30M153 424v30" stroke="#b8dcd8" stroke-width="0.5"/>
<path d="M73 429h86M73 434h86M73 439h86M73 444h86M73 449h86" stroke="#c8e0e0" stroke-width="0.4"/>
<path d="M78 440.3H156" stroke="#3a3a8a" stroke-width="0.6"/>
<path d="M78.4 438.4L87.7 438.4L91.5 444L99 445.9L114 445.9L120 442L131.7 438.4L140 436L148.5 434.6L156 436.5" fill="none" stroke="#e07090" stroke-width="0.7"/>
<rect x="155" y="433.8" width="2" height="1.6" fill="#40c060"/><rect x="155" y="437.6" width="2" height="1.6" fill="#208040"/>
<rect x="73" y="454.5" width="86" height="2.5" fill="#3048a0"/>
<rect x="66.2" y="457" width="95.2" height="5.8" fill="#d8d6d0"/>
<path d="M70 459.5h8M80 459.5h14M96 459.5h20M118 459.5h16M136 459.5h10" stroke="#666" stroke-width="0.6"/>
<rect x="43.2" y="459" width="22" height="3.8" fill="#d0d0d0"/><rect x="86" y="460" width="8" height="1.5" fill="#333"/><rect x="103" y="460" width="8" height="1.5" fill="#602040"/>
<rect x="186" y="373" width="122.6" height="91" fill="#fefefe"/>
<rect x="186" y="463.2" width="122.6" height="1.2" fill="#cfcfcf"/>
<rect x="231.5" y="375.8" width="28.7" height="1.8" fill="#9a6ab8" opacity="0.55"/>
<rect x="237" y="379" width="16" height="0.8" fill="#888"/>
<path d="M188 382.0H307" stroke="#c0c0cc" stroke-width="0.45"/>
<path d="M188 384.5H307" stroke="#c0c0cc" stroke-width="0.45"/>
<path d="M188 386.5H307" stroke="#c0c0cc" stroke-width="0.45"/>
<path d="M188 388.5H307" stroke="#c0c0cc" stroke-width="0.45"/>
<path d="M188 390.0H307" stroke="#c0c0cc" stroke-width="0.45"/>
<path d="M188 392.5H307" stroke="#c0c0cc" stroke-width="0.45"/>
<path d="M188 395.5H307" stroke="#c0c0cc" stroke-width="0.45"/>
<path d="M188 398.0H307" stroke="#c0c0cc" stroke-width="0.45"/>
<path d="M188 401.0H307" stroke="#c0c0cc" stroke-width="0.45"/>
<path d="M188 403.0H307" stroke="#c0c0cc" stroke-width="0.45"/>
<path d="M188 405.5H307" stroke="#c0c0cc" stroke-width="0.45"/>
<path d="M188 408.0H307" stroke="#c0c0cc" stroke-width="0.45"/>
<path d="M188 410.5H307" stroke="#c0c0cc" stroke-width="0.45"/>
<path d="M188 414.0H307" stroke="#c0c0cc" stroke-width="0.45"/>
<path d="M188 419.0H307" stroke="#c0c0cc" stroke-width="0.45"/>
<path d="M188 425.0H307" stroke="#c0c0cc" stroke-width="0.45"/>
<path d="M188 433.0H307" stroke="#c0c0cc" stroke-width="0.45"/>
<path d="M188 440.0H307" stroke="#c0c0cc" stroke-width="0.45"/>
<path d="M188 443.0H307" stroke="#c0c0cc" stroke-width="0.45"/>
<path d="M188 450.0H307" stroke="#c0c0cc" stroke-width="0.45"/>
<path d="M188 453.5H307" stroke="#c0c0cc" stroke-width="0.45"/>
<path d="M188 456.0H307" stroke="#c0c0cc" stroke-width="0.45"/>
<path d="M188 460.0H307" stroke="#c0c0cc" stroke-width="0.45"/>
<path d="M188.0 382V462" stroke="#d0d0dc" stroke-width="0.45"/>
<path d="M209.0 382V462" stroke="#d0d0dc" stroke-width="0.45"/>
<path d="M215.0 382V462" stroke="#d0d0dc" stroke-width="0.45"/>
<path d="M244.0 382V462" stroke="#d0d0dc" stroke-width="0.45"/>
<path d="M262.0 382V462" stroke="#d0d0dc" stroke-width="0.45"/>
<path d="M300.0 382V462" stroke="#d0d0dc" stroke-width="0.45"/>
<path d="M229.0 381.5h3.3M254.9 381.5h8.2M269.4 381.5h9.3M304.5 381.5h9.8M188.0 383.5h12.6M222.4 383.5h13.6M274.2 383.5h7.0M284.4 383.5h3.7M188.0 386.0h6.5M221.3 386.0h11.7M239.6 386.0h3.1M246.2 386.0h13.5M285.7 386.0h6.9M188.0 388.0h12.5M210.0 388.0h4.0M220.9 388.0h13.1M243.4 388.0h9.0M256.9 388.0h5.0M288.8 388.0h7.5M303.0 388.0h12.1M223.4 390.5h11.7M266.4 390.5h13.7M286.0 390.5h11.0M301.4 390.5h7.4M208.9 393.0h8.5M188.0 396.0h9.4M250.3 396.0h12.1M293.5 396.0h13.5M218.3 399.0h11.0M269.3 399.0h10.9M188.0 402.0h8.2M198.6 402.0h4.5M206.5 402.0h5.1M238.9 402.0h7.5M267.1 402.0h9.0M253.1 404.0h7.1M188.0 407.0h7.6M205.4 407.0h8.4M244.4 407.0h3.1M269.0 407.0h5.9M196.7 409.5h8.9M209.9 409.5h8.8M237.2 409.5h5.8M252.3 409.5h12.8M267.1 409.5h11.6M302.0 409.5h13.0M188.0 412.0h12.4M204.7 412.0h12.1M225.6 412.0h10.6M255.2 412.0h8.3M269.5 412.0h6.6M282.8 412.0h11.9M217.5 416.0h12.3M262.9 416.0h9.7M275.9 416.0h9.8M288.6 416.0h7.2M188.0 417.5h4.5M197.0 417.5h9.6M216.1 417.5h7.1M271.4 417.5h11.3M285.7 417.5h5.6M202.9 421.0h12.6M220.2 421.0h11.8M239.7 421.0h3.6M252.9 421.0h10.5M298.0 421.0h5.6M188.0 439.0h6.8M249.9 439.0h7.4M259.5 439.0h5.2M299.2 439.0h7.7M188.0 442.0h4.7M208.2 442.0h5.8M217.2 442.0h6.2M269.4 442.0h10.4M287.2 442.0h11.0M301.8 442.0h3.3M200.3 452.0h6.4M240.6 452.0h10.1M260.5 452.0h3.1M271.8 452.0h7.5M285.7 452.0h13.9M304.3 452.0h4.0M198.8 455.0h5.7M209.7 455.0h3.7M218.6 455.0h6.4M227.3 455.0h13.7M247.0 455.0h7.4M257.1 455.0h6.5M291.9 455.0h5.4M207.2 461.0h6.4M222.2 461.0h5.5M244.7 461.0h6.4M253.7 461.0h5.7M264.9 461.0h9.3M276.7 461.0h10.7M291.0 461.0h6.1M300.0 461.0h7.6" stroke="#3c3c60" stroke-width="0.65" opacity="0.75"/>
<rect x="331" y="375" width="122.6" height="82.1" fill="#dcd9d0"/>
<rect x="331" y="375" width="122.6" height="2.5" fill="url(#tb3)"/>
<rect x="332" y="376" width="8" height="1.5" fill="#fff" opacity="0.7"/>
<rect x="332" y="377.5" width="119.7" height="53.9" fill="#8a2a58"/>
<rect x="343.8" y="382.9" width="105.9" height="42.1" fill="url(#olive)"/>
<rect x="384.4" y="379.6" width="16.8" height="2.6" fill="#f0e0f0" opacity="0.85"/>
<rect x="344.8" y="384.3" width="62.3" height="3.1" fill="#86cce4"/>
<path d="M346 385.8h10M358 385.8h8M369 385.8h6M378 385.8h12M393 385.8h10" stroke="#445" stroke-width="0.6"/>
<path d="M335 394.5h6M335 400.5h6M335 407.5h6M335 414h6M335 420h6" stroke="#e8d8e8" stroke-width="0.9"/>
<path d="M347 427.5h6M357 427.5h6M367 427.5h6M377 427.5h6M387 427.5h6M397 427.5h6M407 427.5h6M417 427.5h6M427 427.5h6M437 427.5h6" stroke="#f0e0f0" stroke-width="0.9"/>
<path d="M344 407.6H388.3" stroke="#c03020" stroke-width="0.9"/>
<path d="M388.30 407.00 L388.65 400.27 L389.00 394.83 L389.35 391.70 L389.70 391.48 L390.05 394.22 L390.40 399.39 L390.75 406.01 L391.10 412.82 L391.45 418.52 L391.80 422.03 L392.15 422.68 L392.50 420.34 L392.85 415.47 L393.20 408.98 L393.55 402.12 L393.90 396.18 L394.25 392.31 L394.60 391.23 L394.95 393.15 L395.30 397.71 L395.65 404.04 L396.00 410.93 L396.35 417.07 L396.70 421.30 L397.05 422.80 L397.40 421.30 L397.75 417.07 L398.10 410.93 L398.45 404.04 L398.80 397.71 L399.15 393.15 L399.50 391.23 L399.85 392.31 L400.20 396.18 L400.55 402.12 L400.90 408.98 L401.25 415.47 L401.60 420.34 L401.95 422.68 L402.30 422.03 L402.65 418.52 L403.00 412.82 L403.35 406.01 L403.70 399.39 L404.05 394.22 L404.40 391.48 L404.75 391.70 L405.10 394.83 L405.45 400.27 L405.80 407.00 L406.15 413.73 L406.50 419.17 L406.85 422.30 L407.20 422.52 L407.55 419.78 L407.90 414.61 L408.25 407.99 L408.60 401.18 L408.95 395.48 L409.30 391.97 L409.65 391.32 L410.00 393.66 L410.35 398.53 L410.70 405.02 L411.05 411.88 L411.40 417.82 L411.75 421.69 L412.10 422.77 L412.45 420.85 L412.80 416.29 L413.15 409.96 L413.50 403.07 L413.85 396.93 L414.20 392.70 L414.55 391.20 L414.90 392.70 L415.25 396.93 L415.60 403.07 L415.95 409.96 L416.30 416.29 L416.65 420.85 L417.00 422.77 L417.35 421.69 L417.70 417.82 L418.05 411.88 L418.40 405.02 L418.75 398.53 L419.10 393.66 L419.45 391.32 L419.80 391.97 L420.15 395.48 L420.50 401.18 L420.85 407.99 L421.20 414.61 L421.55 419.78 L421.90 422.52 L422.25 422.30 L422.60 419.17 L422.95 413.73 L423.30 407.00 L423.65 400.27 L424.00 394.83 L424.35 391.70 L424.70 391.48 L425.05 394.22 L425.40 399.39 L425.75 406.01 L426.10 412.82 L426.45 418.52 L426.80 422.03 L427.15 422.68 L427.50 420.34 L427.85 415.47 L428.20 408.98 L428.55 402.12 L428.90 396.18 L429.25 392.31 L429.60 391.23 L429.95 393.15 L430.30 397.71 L430.65 404.04 L431.00 410.93 L431.35 417.07 L431.70 421.30 L432.05 422.80 L432.40 421.30 L432.75 417.07 L433.10 410.93 L433.45 404.04 L433.80 397.71 L434.15 393.15 L434.50 391.23 L434.85 392.31 L435.20 396.18 L435.55 402.12 L435.90 408.98 L436.25 415.47 L436.60 420.34 L436.95 422.68 L437.30 422.03 L437.65 418.52 L438.00 412.82 L438.35 406.01 L438.70 399.39 L439.05 394.22 L439.40 391.48 L439.75 391.70 L440.10 394.83 L440.45 400.27 L440.80 407.00 L441.15 413.73 L441.50 419.17 L441.85 422.30 L442.20 422.52 L442.55 419.78 L442.90 414.61 L443.25 407.99 L443.60 401.18 L443.95 395.48 L444.30 391.97 L444.65 391.32 L445.00 393.66 L445.35 398.53 L445.70 405.02 L446.05 411.88 L446.40 417.82 L446.75 421.69 L447.10 422.77 L447.45 420.85 L447.80 416.29 L448.15 409.96 L448.50 403.07 L448.85 396.93 L449.20 392.70" fill="none" stroke="#b04020" stroke-width="0.75"/>
<path d="M388.30 407.00 L388.65 400.27 L389.00 394.83 L389.35 391.70 L389.70 391.48 L390.05 394.22 L390.40 399.39 L390.75 406.01 L391.10 412.82 L391.45 418.52 L391.80 422.03 L392.15 422.68 L392.50 420.34 L392.85 415.47 L393.20 408.98 L393.55 402.12 L393.90 396.18 L394.25 392.31 L394.60 391.23 L394.95 393.15 L395.30 397.71 L395.65 404.04 L396.00 410.93 L396.35 417.07 L396.70 421.30 L397.05 422.80 L397.40 421.30 L397.75 417.07 L398.10 410.93 L398.45 404.04 L398.80 397.71 L399.15 393.15 L399.50 391.23 L399.85 392.31 L400.20 396.18 L400.55 402.12 L400.90 408.98 L401.25 415.47 L401.60 420.34 L401.95 422.68 L402.30 422.03 L402.65 418.52 L403.00 412.82 L403.35 406.01 L403.70 399.39 L404.05 394.22 L404.40 391.48 L404.75 391.70 L405.10 394.83 L405.45 400.27 L405.80 407.00 L406.15 413.73 L406.50 419.17 L406.85 422.30 L407.20 422.52 L407.55 419.78 L407.90 414.61 L408.25 407.99 L408.60 401.18 L408.95 395.48 L409.30 391.97 L409.65 391.32 L410.00 393.66 L410.35 398.53 L410.70 405.02 L411.05 411.88 L411.40 417.82 L411.75 421.69 L412.10 422.77 L412.45 420.85 L412.80 416.29 L413.15 409.96 L413.50 403.07 L413.85 396.93 L414.20 392.70 L414.55 391.20 L414.90 392.70 L415.25 396.93 L415.60 403.07 L415.95 409.96 L416.30 416.29 L416.65 420.85 L417.00 422.77 L417.35 421.69 L417.70 417.82 L418.05 411.88 L418.40 405.02 L418.75 398.53 L419.10 393.66 L419.45 391.32 L419.80 391.97 L420.15 395.48 L420.50 401.18 L420.85 407.99 L421.20 414.61 L421.55 419.78 L421.90 422.52 L422.25 422.30 L422.60 419.17 L422.95 413.73 L423.30 407.00 L423.65 400.27 L424.00 394.83 L424.35 391.70 L424.70 391.48 L425.05 394.22 L425.40 399.39 L425.75 406.01 L426.10 412.82 L426.45 418.52 L426.80 422.03 L427.15 422.68 L427.50 420.34 L427.85 415.47 L428.20 408.98 L428.55 402.12 L428.90 396.18 L429.25 392.31 L429.60 391.23 L429.95 393.15 L430.30 397.71 L430.65 404.04 L431.00 410.93 L431.35 417.07 L431.70 421.30 L432.05 422.80 L432.40 421.30 L432.75 417.07 L433.10 410.93 L433.45 404.04 L433.80 397.71 L434.15 393.15 L434.50 391.23 L434.85 392.31 L435.20 396.18 L435.55 402.12 L435.90 408.98 L436.25 415.47 L436.60 420.34 L436.95 422.68 L437.30 422.03 L437.65 418.52 L438.00 412.82 L438.35 406.01 L438.70 399.39 L439.05 394.22 L439.40 391.48 L439.75 391.70 L440.10 394.83 L440.45 400.27 L440.80 407.00 L441.15 413.73 L441.50 419.17 L441.85 422.30 L442.20 422.52 L442.55 419.78 L442.90 414.61 L443.25 407.99 L443.60 401.18 L443.95 395.48 L444.30 391.97 L444.65 391.32 L445.00 393.66 L445.35 398.53 L445.70 405.02 L446.05 411.88 L446.40 417.82 L446.75 421.69 L447.10 422.77 L447.45 420.85 L447.80 416.29 L448.15 409.96 L448.50 403.07 L448.85 396.93 L449.20 392.70" fill="none" stroke="#5a3020" stroke-width="0.4" opacity="0.6" transform="translate(0.8,0)"/>
<rect x="331" y="431.4" width="122.6" height="1" fill="#f0f0f0"/>
<path d="M336 433.5H451" stroke="#a0a0a0" stroke-width="0.4"/>
<rect x="339.9" y="441.3" width="11.8" height="2.9" fill="#f0f0f0" stroke="#909090" stroke-width="0.3"/>
<rect x="352.7" y="441.3" width="12.9" height="4.9" fill="#f6f6f4" stroke="#8a8a8a" stroke-width="0.4"/>
<rect x="355.7" y="443.2" width="6.9" height="1" fill="#555"/>
<rect x="388.3" y="441.3" width="16.9" height="4.9" fill="#f6f6f4" stroke="#8a8a8a" stroke-width="0.4"/>
<rect x="391.3" y="443.2" width="10.9" height="1" fill="#555"/>
<rect x="410.1" y="441.3" width="14.9" height="4.9" fill="#f6f6f4" stroke="#8a8a8a" stroke-width="0.4"/>
<rect x="413.1" y="443.2" width="8.9" height="1" fill="#555"/>
<rect x="435.8" y="441.3" width="12.9" height="4.9" fill="#f6f6f4" stroke="#8a8a8a" stroke-width="0.4"/>
<rect x="438.8" y="443.2" width="6.9" height="1" fill="#555"/>
<path d="M373 451h5M386 451h2M398 451h5M411 451h3" stroke="#555" stroke-width="0.7"/>
<rect x="331" y="463.4" width="122.6" height="1" fill="#d8d8d8"/>
<rect x="476.6" y="380.3" width="121.1" height="73.2" fill="#e3e1da"/>
<rect x="476.6" y="380.3" width="121.1" height="3.2" fill="url(#tb4)"/>
<rect x="478" y="381.2" width="12" height="1.4" fill="#fff" opacity="0.6"/>
<rect x="528.4" y="386.2" width="11.9" height="2.3" fill="#333" opacity="0.75"/>
<rect x="485.8" y="390.8" width="6" height="1" fill="#a04040"/>
<rect x="486.3" y="393" width="5" height="1.2" fill="#666"/>
<rect x="497.6" y="390.8" width="6" height="1" fill="#303080"/>
<rect x="498.1" y="393" width="5" height="1.2" fill="#666"/>
<rect x="509.3" y="390.8" width="6" height="1" fill="#a04040"/>
<rect x="509.8" y="393" width="5" height="1.2" fill="#666"/>
<rect x="521.0" y="390.8" width="6" height="1" fill="#a04060"/>
<rect x="521.5" y="393" width="5" height="1.2" fill="#666"/>
<rect x="532.8" y="390.8" width="6" height="1" fill="#5050a0"/>
<rect x="533.3" y="393" width="5" height="1.2" fill="#666"/>
<rect x="544.5" y="390.8" width="6" height="1" fill="#308080"/>
<rect x="545.0" y="393" width="5" height="1.2" fill="#666"/>
<rect x="556.3" y="390.8" width="6" height="1" fill="#202060"/>
<rect x="556.8" y="393" width="5" height="1.2" fill="#666"/>
<rect x="568.0" y="390.8" width="6" height="1" fill="#608060"/>
<rect x="568.5" y="393" width="5" height="1.2" fill="#666"/>
<rect x="579.8" y="390.8" width="6" height="1" fill="#c04050"/>
<rect x="580.3" y="393" width="5" height="1.2" fill="#666"/>
<rect x="556" y="390" width="6" height="2.6" fill="#2040a0"/>
<rect x="483.9" y="395.3" width="106.8" height="45" fill="#f0f5f8" stroke="#909090" stroke-width="0.4"/>
<path d="M484 399.9h106.8M484 404.4h106.8M484 408.9h106.8M484 413.4h106.8M484 417.9h106.8M484 422.4h106.8M484 426.9h106.8M484 431.4h106.8M484 435.9h106.8" stroke="#dde4ea" stroke-width="0.4"/>
<path d="M479 399.5h3M479 404h3M479 408.5h3M479 413h3M479 417.5h3M479 422h3M479 426.5h3M479 431h3M479 435.5h3" stroke="#777" stroke-width="0.8"/>
<path d="M485 406.6L490.8 411.6L496.7 411.6L502.7 402.7L506.6 401.3L526.4 408.6L534.3 413.6L544.2 407.6L554.1 400.7L568 409.6L571.9 410.6L586.8 410.6" fill="none" stroke="#c04868" stroke-width="0.8"/>
<path d="M513 403.5L530 405.5L545 406.5" fill="none" stroke="#a06080" stroke-width="0.6" stroke-dasharray="1.5 1"/>
<path d="M516 404.5L532 408L545 408" fill="none" stroke="#8090b0" stroke-width="0.6" stroke-dasharray="1.5 1"/>
<path d="M486 441.5v1.6M498 441.5v1.6M510 441.5v1.6M522 441.5v1.6M534 441.5v1.6M546 441.5v1.6M558 441.5v1.6M570 441.5v1.6M582 441.5v1.6" stroke="#555" stroke-width="0.5"/>
<path d="M483 443.5h6M495 443.5h6M507 443.5h6M519 443.5h6M531 443.5h6M543 443.5h6M555 443.5h6M567 443.5h6M579 443.5h6" stroke="#666" stroke-width="0.7"/>
<path d="M488 445.8h6M500 445.8h6M512 445.8h6M524 445.8h6M536 445.8h6M548 445.8h6M560 445.8h6M572 445.8h6M584 445.8h6" stroke="#666" stroke-width="0.7"/>
<rect x="590.7" y="384" width="5.5" height="66" fill="#d0cec8"/>
<rect x="476.6" y="450.8" width="121.1" height="2.7" fill="#d6d4ce"/>
<path d="M479 452h8M490 452h6M499 452h12M514 452h6M523 452h8M534 452h14M551 452h5M560 452h8M571 452h6" stroke="#5a6aa0" stroke-width="0.8"/>
<rect x="476.6" y="463.4" width="121.1" height="1" fill="#d8d8d8"/>
<!-- /shots -->
</g>
</svg>
</body></html>
